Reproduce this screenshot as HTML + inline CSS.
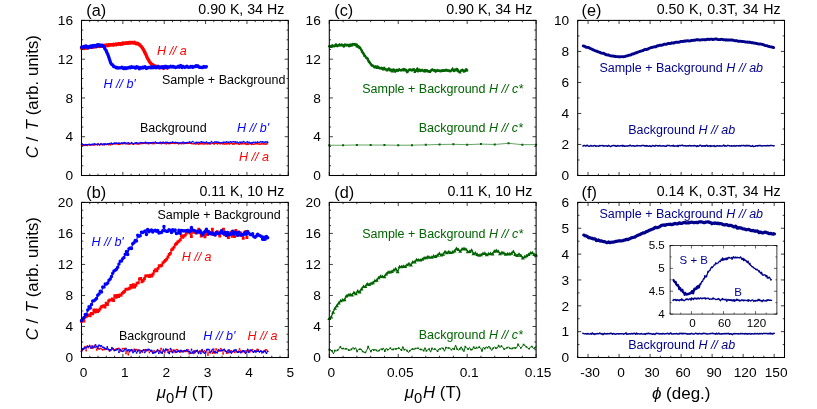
<!DOCTYPE html>
<html><head><meta charset="utf-8"><title>Figure</title>
<style>html,body{margin:0;padding:0;background:#fff;}svg{display:block;will-change:transform;}text{font-family:"Liberation Sans",sans-serif;}</style>
</head><body>
<svg width="817" height="409" viewBox="0 0 817 409" font-family="'Liberation Sans', sans-serif">
<rect width="817" height="409" fill="#fff"/>
<polyline points="81.5,144.68 82.35,145.38 83.2,145.18 84.05,145.02 84.9,145.4 85.75,145.1 86.6,145.07 87.45,145.63 88.3,144.65 89.15,144.76 90,145.14 90.85,144.95 91.7,144.69 92.55,144.91 93.4,144.87 94.25,145.25 95.1,144.53 95.95,144.64 96.8,144.55 97.65,145.13 98.5,144.01 99.35,144.49 100.2,144.64 101.05,143.78 101.9,144.45 102.75,144.89 103.6,144.5 104.45,145.11 105.3,143.94 106.15,144.41 107,144.49 107.85,143.84 108.7,144.73 109.55,143.96 110.4,144.82 111.25,144.31 112.1,144.47 112.94,143.54 113.79,143.41 114.64,144.09 115.49,143.67 116.34,144 117.19,143.72 118.04,144.15 118.89,144.45 119.74,144.47 120.59,143.71 121.44,143.06 122.29,143.72 123.14,143.98 123.99,143.14 124.84,143.69 125.69,143.73 126.54,143.66 127.39,143.78 128.24,143.83 129.09,144.2 129.94,143.53 130.79,143.72 131.64,143.27 132.49,143.79 133.34,144.3 134.19,143.68 135.04,143.05 135.89,143.75 136.74,143.91 137.59,144 138.44,143.94 139.29,143.68 140.14,143.97 140.99,143.05 141.84,143.65 142.69,143.5 143.54,143.04 144.39,143.01 145.24,143.59 146.09,143.39 146.94,143.25 147.79,143.56 148.64,144.09 149.49,143.25 150.34,143.17 151.19,143.32 152.04,143.77 152.89,143.52 153.74,143.65 154.59,143.54 155.44,143 156.29,142.91 157.14,143.2 157.99,143.24 158.84,143.19 159.69,143.42 160.54,143.44 161.39,143.64 162.24,143.43 163.09,142.65 163.94,143.12 164.79,143.53 165.64,143.57 166.49,143.71 167.34,143.29 168.19,143.28 169.04,143.91 169.89,143.25 170.74,143.61 171.59,142.93 172.44,143.37 173.29,142.84 174.14,143.58 174.98,143.52 175.83,143.32 176.68,143.07 177.53,143.24 178.38,143.85 179.23,143.37 180.08,143.43 180.93,143.58 181.78,143.66 182.63,142.85 183.48,143.58 184.33,143.73 185.18,143.23 186.03,143.41 186.88,143.48 187.73,143.19 188.58,143.3 189.43,143.34 190.28,143.14 191.13,143.37 191.98,143.68 192.83,143.6 193.68,143.66 194.53,143.41 195.38,143.85 196.23,144.11 197.08,143.47 197.93,143.95 198.78,144.17 199.63,143.38 200.48,143.75 201.33,143.35 202.18,143.7 203.03,143.91 203.88,143.95 204.73,143.71 205.58,143.63 206.43,143.82 207.28,143.64 208.13,144.07 208.98,143.55 209.83,144.17 210.68,143.63 211.53,143.33 212.38,143.2 213.23,143 214.08,144.11 214.93,143.33 215.78,143.19 216.63,143.27 217.48,143.92 218.33,143.47 219.18,142.98 220.03,144.13 220.88,143.46 221.73,143.25 222.58,143.87 223.43,143.44 224.28,144.01 225.13,143.93 225.98,143.93 226.83,143.6 227.68,143.7 228.53,143.35 229.38,144 230.23,143.73 231.08,143.36 231.93,143.5 232.78,144.15 233.63,143.48 234.48,143.87 235.33,143.58 236.18,143.62 237.02,143.31 237.87,143.69 238.72,144.36 239.57,144.21 240.42,143.5 241.27,143.84 242.12,143.37 242.97,143.67 243.82,144.02 244.67,143.41 245.52,144.05 246.37,144.48 247.22,143.09 248.07,144.44 248.92,143.58 249.77,143.48 250.62,143.76 251.47,144.38 252.32,143.47 253.17,144.31 254.02,144.28 254.87,143.95 255.72,143.57 256.57,143.74 257.42,143.57 258.27,144 259.12,143.91 259.97,144.25 260.82,143.97 261.67,143.67 262.52,143.98 263.37,143.72 264.22,144.08 265.07,144.09 265.92,143.88 266.77,143.96 267.62,143.7" fill="none" stroke="#ff0000" stroke-width="1.2" stroke-linejoin="round" stroke-linecap="round" />
<path d="M81.5 144.68h.01M83.2 145.18h.01M84.9 145.4h.01M86.6 145.07h.01M88.3 144.65h.01M90 145.14h.01M91.7 144.69h.01M93.4 144.87h.01M95.1 144.53h.01M96.8 144.55h.01M98.5 144.01h.01M100.2 144.64h.01M101.9 144.45h.01M103.6 144.5h.01M105.3 143.94h.01M107 144.49h.01M108.7 144.73h.01M110.4 144.82h.01M112.1 144.47h.01M113.79 143.41h.01M115.49 143.67h.01M117.19 143.72h.01M118.89 144.45h.01M120.59 143.71h.01M122.29 143.72h.01M123.99 143.14h.01M125.69 143.73h.01M127.39 143.78h.01M129.09 144.2h.01M130.79 143.72h.01M132.49 143.79h.01M134.19 143.68h.01M135.89 143.75h.01M137.59 144h.01M139.29 143.68h.01M140.99 143.05h.01M142.69 143.5h.01M144.39 143.01h.01M146.09 143.39h.01M147.79 143.56h.01M149.49 143.25h.01M151.19 143.32h.01M152.89 143.52h.01M154.59 143.54h.01M156.29 142.91h.01M157.99 143.24h.01M159.69 143.42h.01M161.39 143.64h.01M163.09 142.65h.01M164.79 143.53h.01M166.49 143.71h.01M168.19 143.28h.01M169.89 143.25h.01M171.59 142.93h.01M173.29 142.84h.01M174.98 143.52h.01M176.68 143.07h.01M178.38 143.85h.01M180.08 143.43h.01M181.78 143.66h.01M183.48 143.58h.01M185.18 143.23h.01M186.88 143.48h.01M188.58 143.3h.01M190.28 143.14h.01M191.98 143.68h.01M193.68 143.66h.01M195.38 143.85h.01M197.08 143.47h.01M198.78 144.17h.01M200.48 143.75h.01M202.18 143.7h.01M203.88 143.95h.01M205.58 143.63h.01M207.28 143.64h.01M208.98 143.55h.01M210.68 143.63h.01M212.38 143.2h.01M214.08 144.11h.01M215.78 143.19h.01M217.48 143.92h.01M219.18 142.98h.01M220.88 143.46h.01M222.58 143.87h.01M224.28 144.01h.01M225.98 143.93h.01M227.68 143.7h.01M229.38 144h.01M231.08 143.36h.01M232.78 144.15h.01M234.48 143.87h.01M236.18 143.62h.01M237.87 143.69h.01M239.57 144.21h.01M241.27 143.84h.01M242.97 143.67h.01M244.67 143.41h.01M246.37 144.48h.01M248.07 144.44h.01M249.77 143.48h.01M251.47 144.38h.01M253.17 144.31h.01M254.87 143.95h.01M256.57 143.74h.01M258.27 144h.01M259.97 144.25h.01M261.67 143.67h.01M263.37 143.72h.01M265.07 144.09h.01M266.77 143.96h.01" fill="none" stroke="#ff0000" stroke-width="1.6" stroke-linecap="round"/>
<polyline points="81.5,144.8 82.35,144.16 83.2,144.88 84.05,144.85 84.9,145.13 85.75,144.68 86.6,144.39 87.45,144.91 88.3,144.6 89.15,144.27 90,144.56 90.85,144.67 91.7,144.05 92.55,144.35 93.4,144.2 94.25,143.86 95.1,143.83 95.95,144.37 96.8,144.4 97.65,144.05 98.5,144.17 99.35,144.82 100.2,143.55 101.05,144 101.9,143.68 102.75,144.39 103.6,143.4 104.45,144.09 105.3,143.86 106.15,144.33 107,143.82 107.85,143.81 108.7,143.75 109.55,143.48 110.4,143.59 111.25,143.2 112.1,143.73 112.94,143.91 113.79,143.5 114.64,143.22 115.49,142.95 116.34,143.09 117.19,144.06 118.04,143.2 118.89,142.76 119.74,143.28 120.59,143.48 121.44,143.13 122.29,143.43 123.14,142.97 123.99,143.2 124.84,142.63 125.69,142.96 126.54,143.42 127.39,142.88 128.24,142.74 129.09,143.3 129.94,143.23 130.79,143.94 131.64,142.68 132.49,143.24 133.34,143.81 134.19,143.66 135.04,143.04 135.89,142.65 136.74,142.96 137.59,142.72 138.44,143.32 139.29,143.4 140.14,142.52 140.99,142.65 141.84,142.84 142.69,142.32 143.54,143.17 144.39,142.95 145.24,142.38 146.09,142.05 146.94,142.74 147.79,142.08 148.64,142.95 149.49,142.58 150.34,142.76 151.19,143.3 152.04,142.57 152.89,142.3 153.74,142.71 154.59,142.67 155.44,142.09 156.29,143.1 157.14,143.19 157.99,142.85 158.84,143.05 159.69,142.06 160.54,142.45 161.39,142.9 162.24,142.8 163.09,141.44 163.94,142.78 164.79,142.83 165.64,142.41 166.49,142.28 167.34,142.43 168.19,142.86 169.04,142.95 169.89,142.27 170.74,142.51 171.59,143.12 172.44,142.03 173.29,142.17 174.14,142.56 174.98,142.56 175.83,142.37 176.68,142.72 177.53,142.97 178.38,142.32 179.23,142.99 180.08,142.28 180.93,142.98 181.78,142.46 182.63,142.47 183.48,141.72 184.33,142.82 185.18,142.95 186.03,142.65 186.88,142.83 187.73,142.61 188.58,142.22 189.43,142.08 190.28,141.73 191.13,142.65 191.98,141.34 192.83,141.59 193.68,142.43 194.53,143.24 195.38,142.38 196.23,142.31 197.08,143.23 197.93,142.31 198.78,142.41 199.63,142.63 200.48,142.08 201.33,141.93 202.18,142.5 203.03,142.22 203.88,142.56 204.73,142.61 205.58,142.27 206.43,142.09 207.28,142.51 208.13,143.15 208.98,142.06 209.83,142.9 210.68,142.23 211.53,141.58 212.38,142.28 213.23,142.73 214.08,142.83 214.93,141.81 215.78,142.26 216.63,142.05 217.48,141.89 218.33,142.27 219.18,142.36 220.03,142.61 220.88,143.43 221.73,142.82 222.58,142.26 223.43,142.3 224.28,142.07 225.13,142.27 225.98,142.16 226.83,141.91 227.68,142.56 228.53,142.32 229.38,142.83 230.23,141.83 231.08,142.19 231.93,142.01 232.78,141.6 233.63,141.77 234.48,142.21 235.33,141.88 236.18,142.74 237.02,142.01 237.87,142.12 238.72,142.8 239.57,141.65 240.42,142.44 241.27,141.9 242.12,142.32 242.97,141.77 243.82,141.65 244.67,142.47 245.52,142.74 246.37,142.2 247.22,141.81 248.07,142.28 248.92,142.37 249.77,141.94 250.62,143.2 251.47,142.38 252.32,142.66 253.17,142 254.02,142.4 254.87,142.54 255.72,142.25 256.57,142.67 257.42,142.11 258.27,142.36 259.12,142.24 259.97,142.37 260.82,141.73 261.67,142.13 262.52,141.88 263.37,141.89 264.22,142.38 265.07,141.85 265.92,141.93 266.77,141.94 267.62,142.21" fill="none" stroke="#0000ff" stroke-width="0.8" stroke-linejoin="round" stroke-linecap="round" />
<path d="M82.35 144.16h.01M84.05 144.85h.01M85.75 144.68h.01M87.45 144.91h.01M89.15 144.27h.01M90.85 144.67h.01M92.55 144.35h.01M94.25 143.86h.01M95.95 144.37h.01M97.65 144.05h.01M99.35 144.82h.01M101.05 144h.01M102.75 144.39h.01M104.45 144.09h.01M106.15 144.33h.01M107.85 143.81h.01M109.55 143.48h.01M111.25 143.2h.01M112.94 143.91h.01M114.64 143.22h.01M116.34 143.09h.01M118.04 143.2h.01M119.74 143.28h.01M121.44 143.13h.01M123.14 142.97h.01M124.84 142.63h.01M126.54 143.42h.01M128.24 142.74h.01M129.94 143.23h.01M131.64 142.68h.01M133.34 143.81h.01M135.04 143.04h.01M136.74 142.96h.01M138.44 143.32h.01M140.14 142.52h.01M141.84 142.84h.01M143.54 143.17h.01M145.24 142.38h.01M146.94 142.74h.01M148.64 142.95h.01M150.34 142.76h.01M152.04 142.57h.01M153.74 142.71h.01M155.44 142.09h.01M157.14 143.19h.01M158.84 143.05h.01M160.54 142.45h.01M162.24 142.8h.01M163.94 142.78h.01M165.64 142.41h.01M167.34 142.43h.01M169.04 142.95h.01M170.74 142.51h.01M172.44 142.03h.01M174.14 142.56h.01M175.83 142.37h.01M177.53 142.97h.01M179.23 142.99h.01M180.93 142.98h.01M182.63 142.47h.01M184.33 142.82h.01M186.03 142.65h.01M187.73 142.61h.01M189.43 142.08h.01M191.13 142.65h.01M192.83 141.59h.01M194.53 143.24h.01M196.23 142.31h.01M197.93 142.31h.01M199.63 142.63h.01M201.33 141.93h.01M203.03 142.22h.01M204.73 142.61h.01M206.43 142.09h.01M208.13 143.15h.01M209.83 142.9h.01M211.53 141.58h.01M213.23 142.73h.01M214.93 141.81h.01M216.63 142.05h.01M218.33 142.27h.01M220.03 142.61h.01M221.73 142.82h.01M223.43 142.3h.01M225.13 142.27h.01M226.83 141.91h.01M228.53 142.32h.01M230.23 141.83h.01M231.93 142.01h.01M233.63 141.77h.01M235.33 141.88h.01M237.02 142.01h.01M238.72 142.8h.01M240.42 142.44h.01M242.12 142.32h.01M243.82 141.65h.01M245.52 142.74h.01M247.22 141.81h.01M248.92 142.37h.01M250.62 143.2h.01M252.32 142.66h.01M254.02 142.4h.01M255.72 142.25h.01M257.42 142.11h.01M259.12 142.24h.01M260.82 141.73h.01M262.52 141.88h.01M264.22 142.38h.01M265.92 141.93h.01M267.62 142.21h.01" fill="none" stroke="#0000ff" stroke-width="1.7" stroke-linecap="round"/>
<polyline points="81.5,48.15 81.84,47.76 82.17,47.32 82.51,48.16 82.84,47.73 83.18,47.95 83.51,47.58 83.85,47.65 84.18,47.43 84.52,48.51 84.85,47.84 85.19,47.92 85.52,47.62 85.86,47.77 86.19,47.71 86.53,47.29 86.87,46.9 87.2,48.23 87.54,47.47 87.87,47.25 88.21,47.3 88.54,47.37 88.88,47.63 89.21,47.47 89.55,46.95 89.88,46.81 90.22,47.06 90.55,47.29 90.89,46.99 91.23,47.05 91.56,46.78 91.9,46.87 92.23,47.05 92.57,46.78 92.9,47.14 93.24,46.52 93.57,46.38 93.91,47.03 94.24,46.53 94.58,46.91 94.91,46.27 95.25,46.28 95.58,46.58 95.92,46.18 96.26,46.56 96.59,46.59 96.93,46.53 97.26,46.37 97.6,46.39 97.93,46.21 98.27,46.4 98.6,45.96 98.94,45.85 99.27,46.26 99.61,46.49 99.94,45.83 100.28,45.67 100.62,46.01 100.95,46.3 101.29,45.82 101.62,45.41 101.96,46.37 102.29,45.65 102.63,45.84 102.96,45.96 103.3,45.53 103.63,46.02 103.97,45.52 104.3,45.19 104.64,45.48 104.97,45.75 105.31,45.98 105.65,45.8 105.98,45.92 106.32,44.89 106.65,45.39 106.99,45.58 107.32,45.62 107.66,45.52 107.99,45.27 108.33,45.51 108.66,44.61 109,45.28 109.33,45.25 109.67,44.9 110,44.53 110.34,44.53 110.68,45.02 111.01,44.77 111.35,44.77 111.68,44.62 112.02,44.66 112.35,44.98 112.69,45.03 113.02,44.58 113.36,44.94 113.69,44.16 114.03,44.51 114.36,44.78 114.7,44.54 115.04,44.56 115.37,44.41 115.71,44.06 116.04,44.72 116.38,44.81 116.71,44.13 117.05,44.25 117.38,44.11 117.72,43.99 118.05,44.14 118.39,43.82 118.72,44.28 119.06,43.96 119.39,44.19 119.73,44.24 120.07,43.69 120.4,43.67 120.74,44.37 121.07,44.09 121.41,43.64 121.74,43.38 122.08,43.85 122.41,43.68 122.75,44 123.08,42.82 123.42,43.38 123.75,43.22 124.09,43.26 124.42,43.14 124.76,43.2 125.1,43.44 125.43,43.09 125.77,43.25 126.1,42.87 126.44,43.42 126.77,43.34 127.11,42.95 127.44,42.74 127.78,43.04 128.11,43.26 128.45,43.06 128.78,43.14 129.12,42.41 129.46,42.68 129.79,42.54 130.13,42.8 130.46,43.02 130.8,42.5 131.13,42.34 131.47,42.63 131.8,42.79 132.14,42.46 132.47,42.87 132.81,42.53 133.14,42.95 133.48,43.06 133.81,42.65 134.15,42.76 134.49,42.36 134.82,43.05 135.16,43.02 135.49,43.43 135.83,43.71 136.16,43.77 136.5,43.22 136.83,43.8 137.17,43.25 137.5,43.29 137.84,43.93 138.17,43.53 138.51,44.12 138.85,44.06 139.18,44.67 139.52,44.56 139.85,45.38 140.19,45.21 140.52,45.84 140.86,46.08 141.19,46.23 141.53,46.77 141.86,47.27 142.2,47.5 142.53,47.98 142.87,49.14 143.2,49.14 143.54,49.7 143.88,50.73 144.21,51.04 144.55,52.21 144.88,52.09 145.22,53.28 145.55,53.95 145.89,54.3 146.22,55.41 146.56,55.91 146.89,57.1 147.23,57.66 147.56,58.59 147.9,58.91 148.23,59.19 148.57,60.03 148.91,60.43 149.24,61.54 149.58,62.02 149.91,62.39 150.25,62.54 150.58,63.03 150.92,63.53 151.25,63.71 151.59,64.27 151.92,64.55 152.26,64.44 152.59,65.25 152.93,65.26 153.27,65.06 153.6,65.69 153.94,65.69 154.27,66.23 154.61,65.62 154.94,66.97 155.28,66.76 155.61,66.84 155.95,66.16 156.28,66.61 156.62,66.86 156.95,67.23 157.29,66.81 157.62,66.94 157.96,67.22 158.3,67.49 158.63,67.42 158.97,67.07 159.3,67.07 159.64,67.17 159.97,67.26 160.31,67.75 160.64,67.24 160.98,67.57 161.31,67.28 161.65,67.17 161.98,67.51 162.32,67.62 162.66,67.05 162.99,67.24 163.33,67.54 163.66,68.23 164,67.38 164.33,67.19 164.67,67.05 165,67.58 165.34,67.57 165.67,67.52 166.01,67.15 166.34,67.73 166.68,67.43 167.01,67.67 167.35,67.32 167.69,67.85 168.02,67.29 168.36,67.55" fill="none" stroke="#ff0000" stroke-width="3.3" stroke-linejoin="round" stroke-linecap="round" />
<polyline points="81.5,47.14 81.85,47.5 82.2,47.32 82.54,47.43 82.89,46.99 83.24,46.82 83.59,46.88 83.94,46.38 84.28,46.89 84.63,47.13 84.98,47.1 85.33,46.28 85.68,45.81 86.02,45.85 86.37,46.54 86.72,47.04 87.07,47.3 87.41,46.7 87.76,46.8 88.11,46.82 88.46,47.73 88.81,47.13 89.15,46.69 89.5,46.45 89.85,46.55 90.2,46.37 90.55,46 90.89,46.18 91.24,46.87 91.59,47.36 91.94,46.75 92.29,46.54 92.63,45.63 92.98,45.56 93.33,45.49 93.68,45.88 94.03,45.86 94.37,45.59 94.72,45.32 95.07,45.95 95.42,45.7 95.77,45.97 96.11,46.11 96.46,46.49 96.81,46.09 97.16,44.84 97.5,44.73 97.85,45.2 98.2,45.16 98.55,44.99 98.9,44.68 99.24,45.57 99.59,45.89 99.94,45.42 100.29,45.21 100.64,45.11 100.98,45.72 101.33,45.26 101.68,45.36 102.03,45.15 102.38,45.67 102.72,45.65 103.07,46.32 103.42,46.49 103.77,46.43 104.12,46.57 104.46,47.43 104.81,48.72 105.16,49.19 105.51,49.61 105.86,49.94 106.2,50.71 106.55,51.83 106.9,52.43 107.25,53.26 107.59,53.8 107.94,54.92 108.29,55.7 108.64,56.65 108.99,57.93 109.33,58.81 109.68,59.86 110.03,60.69 110.38,62.27 110.73,62.9 111.07,63.68 111.42,64.02 111.77,64.46 112.12,64.66 112.47,64.67 112.81,65.11 113.16,65.57 113.51,66.24 113.86,66.73 114.21,66.66 114.55,66.75 114.9,66.88 115.25,66.97 115.6,67.06 115.95,67.18 116.29,67.92 116.64,67.9 116.99,67.76 117.34,67.37 117.68,67.66 118.03,67.99 118.38,68.1 118.73,67.94 119.08,67.76 119.42,67.75 119.77,67.96 120.12,67.84 120.47,67.74 120.82,67.82 121.16,67.71 121.51,67.56 121.86,67.12 122.21,67.37 122.56,67.65 122.9,68.2 123.25,67.95 123.6,68.49 123.95,68.27 124.3,68.57 124.64,67.73 124.99,67.62 125.34,67.79 125.69,68.43 126.04,68.63 126.38,68.32 126.73,67.9 127.08,67.75 127.43,67.97 127.77,68.04 128.12,67.7 128.47,67.81 128.82,67.74 129.17,67.56 129.51,67.09 129.86,67.22 130.21,67.49 130.56,67.85 130.91,67.71 131.25,67.46 131.6,66.71 131.95,67.19 132.3,67.42 132.65,67.4 132.99,67.07 133.34,67.19 133.69,67.31 134.04,67.29 134.39,67.23 134.73,67.66 135.08,68.06 135.43,68.08 135.78,68.11 136.13,67.31 136.47,66.82 136.82,66.57 137.17,66.93 137.52,67.38 137.86,67.51 138.21,67.12 138.56,67.64 138.91,68.02 139.26,68.87 139.6,68.3 139.95,67.97 140.3,67.57 140.65,67.94 141,68.09 141.34,68.17 141.69,68.05 142.04,68.02 142.39,67.37 142.74,67.18 143.08,67.27 143.43,67.82 143.78,67.57 144.13,67.2 144.48,66.95 144.82,67.08 145.17,66.76 145.52,67.18 145.87,67.58 146.22,68.51 146.56,68.03 146.91,67.92 147.26,67.61 147.61,67.96 147.95,67.66 148.3,67.5 148.65,67.43 149,67.27 149.35,67.52 149.69,67.72 150.04,67.34 150.39,67.15 150.74,66.94 151.09,67.86 151.43,67.79 151.78,67.42 152.13,67 152.48,66.8 152.83,67.1 153.17,67.72 153.52,67.79 153.87,67.28 154.22,66.56 154.57,66.68 154.91,66.87 155.26,67.28 155.61,67.24 155.96,67.81 156.31,67.78 156.65,67.72 157,67.42 157.35,67.11 157.7,66.62 158.04,66.2 158.39,66.49 158.74,67.22 159.09,67.77 159.44,67.95 159.78,67.73 160.13,67.42 160.48,67.09 160.83,67.05 161.18,67.11 161.52,67.2 161.87,67.45 162.22,67.01 162.57,66.68 162.92,66.72 163.26,67.45 163.61,67.9 163.96,67.63 164.31,67.02 164.66,66.57 165,66.27 165.35,66.32 165.7,66.29 166.05,66.37 166.4,66.55 166.74,66.89 167.09,67.57 167.44,67.73 167.79,67.19 168.13,66.85 168.48,66.98 168.83,67.2 169.18,67.02 169.53,66.97 169.87,66.82 170.22,66.66 170.57,66.31 170.92,66.9 171.27,66.93 171.61,67.03 171.96,66.65 172.31,66.46 172.66,66.25 173.01,66.41 173.35,66.54 173.7,67.17 174.05,67.03 174.4,67.03 174.75,66.81 175.09,67.2 175.44,67.4 175.79,67.63 176.14,67.31 176.49,67.21 176.83,67.13 177.18,67.21 177.53,66.99 177.88,66.42 178.22,66.14 178.57,66.48 178.92,66.87 179.27,67.26 179.62,67.04 179.96,66.28 180.31,65.78 180.66,65.49 181.01,65.77 181.36,66.61 181.7,67.1 182.05,67.6 182.4,66.79 182.75,66.26 183.1,66.32 183.44,66.65 183.79,66.96 184.14,66.91 184.49,67.09 184.84,67.43 185.18,67.04 185.53,67.12 185.88,66.61 186.23,66.82 186.58,66.35 186.92,66.23 187.27,66.44 187.62,66.88 187.97,67.18 188.31,67.28 188.66,67.25 189.01,67.4 189.36,67.06 189.71,67.2 190.05,67.27 190.4,67.14 190.75,66.42 191.1,66.85 191.45,66.65 191.79,66.77 192.14,66.52 192.49,67.29 192.84,67.42 193.19,67.22 193.53,66.77 193.88,66.64 194.23,66.62 194.58,66.61 194.93,66.72 195.27,66.36 195.62,65.91 195.97,65.56 196.32,65.74 196.67,66.29 197.01,66.1 197.36,65.98 197.71,65.79 198.06,66.75 198.4,66.71 198.75,67.04 199.1,66.86 199.45,67.44 199.8,67.36 200.14,67.21 200.49,67.26 200.84,67.36 201.19,67.39 201.54,67.32 201.88,67.41 202.23,67.62 202.58,67.65 202.93,67.13 203.28,67.17 203.62,66.56 203.97,66.47 204.32,66.52 204.67,66.72 205.02,67.1 205.36,67.08 205.71,67.18 206.06,67.11 206.41,66.59" fill="none" stroke="#0000ff" stroke-width="3.2" stroke-linejoin="round" stroke-linecap="round" />
<rect x="81.5" y="20.4" width="206.8" height="155.1" fill="none" stroke="#000" stroke-width="1.05"/>
<path d="M81.5 175.5v-3.6M81.5 20.4v3.6M89.77 175.5v-1.8M89.77 20.4v1.8M98.04 175.5v-1.8M98.04 20.4v1.8M106.32 175.5v-1.8M106.32 20.4v1.8M114.59 175.5v-1.8M114.59 20.4v1.8M122.86 175.5v-3.6M122.86 20.4v3.6M131.13 175.5v-1.8M131.13 20.4v1.8M139.4 175.5v-1.8M139.4 20.4v1.8M147.68 175.5v-1.8M147.68 20.4v1.8M155.95 175.5v-1.8M155.95 20.4v1.8M164.22 175.5v-3.6M164.22 20.4v3.6M172.49 175.5v-1.8M172.49 20.4v1.8M180.76 175.5v-1.8M180.76 20.4v1.8M189.04 175.5v-1.8M189.04 20.4v1.8M197.31 175.5v-1.8M197.31 20.4v1.8M205.58 175.5v-3.6M205.58 20.4v3.6M213.85 175.5v-1.8M213.85 20.4v1.8M222.12 175.5v-1.8M222.12 20.4v1.8M230.4 175.5v-1.8M230.4 20.4v1.8M238.67 175.5v-1.8M238.67 20.4v1.8M246.94 175.5v-3.6M246.94 20.4v3.6M255.21 175.5v-1.8M255.21 20.4v1.8M263.48 175.5v-1.8M263.48 20.4v1.8M271.76 175.5v-1.8M271.76 20.4v1.8M280.03 175.5v-1.8M280.03 20.4v1.8M288.3 175.5v-3.6M288.3 20.4v3.6M81.5 175.5h3.6M288.3 175.5h-3.6M81.5 165.81h1.8M288.3 165.81h-1.8M81.5 156.11h1.8M288.3 156.11h-1.8M81.5 146.42h1.8M288.3 146.42h-1.8M81.5 136.72h3.6M288.3 136.72h-3.6M81.5 127.03h1.8M288.3 127.03h-1.8M81.5 117.34h1.8M288.3 117.34h-1.8M81.5 107.64h1.8M288.3 107.64h-1.8M81.5 97.95h3.6M288.3 97.95h-3.6M81.5 88.26h1.8M288.3 88.26h-1.8M81.5 78.56h1.8M288.3 78.56h-1.8M81.5 68.87h1.8M288.3 68.87h-1.8M81.5 59.18h3.6M288.3 59.18h-3.6M81.5 49.48h1.8M288.3 49.48h-1.8M81.5 39.79h1.8M288.3 39.79h-1.8M81.5 30.09h1.8M288.3 30.09h-1.8M81.5 20.4h3.6M288.3 20.4h-3.6" stroke="#000" stroke-width="0.75" fill="none"/>
<text x="73" y="180.2" font-size="13.7" text-anchor="end">0</text>
<text x="73" y="141.43" font-size="13.7" text-anchor="end">4</text>
<text x="73" y="102.65" font-size="13.7" text-anchor="end">8</text>
<text x="73" y="63.88" font-size="13.7" text-anchor="end">12</text>
<text x="73" y="25.1" font-size="13.7" text-anchor="end">16</text>
<text x="156.9" y="54.8" font-size="12.5" fill="#ff0000" text-anchor="start" ><tspan font-style="italic">H // a</tspan></text>
<text x="103.5" y="87.6" font-size="12.5" fill="#0000ff" text-anchor="start" ><tspan font-style="italic">H // b'</tspan></text>
<text x="162" y="83.8" font-size="12.5" fill="#000" text-anchor="start" >Sample + Background</text>
<text x="139.9" y="131.8" font-size="12.5" fill="#000" text-anchor="start" >Background</text>
<text x="236.9" y="131.8" font-size="12.5" fill="#0000ff" text-anchor="start" ><tspan font-style="italic">H // b'</tspan></text>
<text x="239" y="160.6" font-size="12.5" fill="#ff0000" text-anchor="start" ><tspan font-style="italic">H // a</tspan></text>
<text x="86.3" y="15.7" font-size="16.3" fill="#000" text-anchor="start" >(a)</text>
<text x="284.3" y="14" font-size="14.2" fill="#000" text-anchor="end" >0.90 K, 34 Hz</text>
<polyline points="81.5,351.1 82.67,349.75 83.84,348.05 85.01,346.71 86.18,350.75 87.35,345.87 88.52,347.57 89.69,345.39 90.86,347.74 92.04,348.19 93.21,347.06 94.38,345.63 95.55,347.02 96.72,349.96 97.89,346.18 99.06,349.05 100.23,348.38 101.4,348.77 102.57,349.83 103.74,349.37 104.91,349.33 106.08,349.17 107.25,348.8 108.42,349.45 109.59,351.17 110.76,349.82 111.93,348.62 113.11,348.82 114.28,349.95 115.45,349.41 116.62,349.12 117.79,348.59 118.96,348.23 120.13,350.78 121.3,350.76 122.47,348.64 123.64,348.57 124.81,348.63 125.98,353.49 127.15,350.89 128.32,354.68 129.49,349.77 130.66,350.63 131.83,350.66 133,350.92 134.18,349.16 135.35,351.16 136.52,349.53 137.69,350.15 138.86,350.41 140.03,350.29 141.2,350.74 142.37,352.25 143.54,350.02 144.71,350.04 145.88,351.11 147.05,350.04 148.22,349.84 149.39,352.56 150.56,351.16 151.73,351.54 152.9,352.13 154.08,350.62 155.25,352.08 156.42,351.58 157.59,350.75 158.76,350.63 159.93,350.67 161.1,348.31 162.27,351.72 163.44,350.79 164.61,352.61 165.78,350.53 166.95,349.7 168.12,349.63 169.29,351.94 170.46,351.51 171.63,349.6 172.8,351.29 173.97,349.99 175.15,352.4 176.32,349.48 177.49,349.93 178.66,350.64 179.83,352.21 181,351.42 182.17,351.04 183.34,350.91 184.51,351.37 185.68,351.52 186.85,351.02 188.02,349.53 189.19,353.76 190.36,352.97 191.53,353.19 192.7,352.13 193.87,353.44 195.04,350.6 196.22,351.17 197.39,351.6 198.56,352.14 199.73,351.1 200.9,351.07 202.07,350.88 203.24,352.2 204.41,350.49 205.58,353.12 206.75,349.75 207.92,355.11 209.09,352.03 210.26,352.78 211.43,350.31 212.6,353.13 213.77,349.02 214.94,353.2 216.12,348.76 217.29,350.72 218.46,351.23 219.63,350.72 220.8,348.53 221.97,350.14 223.14,354.01 224.31,349.75 225.48,350.94 226.65,353.23 227.82,350.27 228.99,352.71 230.16,350.97 231.33,350.9 232.5,351.99 233.67,350.37 234.84,352.43 236.01,350.92 237.19,351.83 238.36,351.36 239.53,348.74 240.7,350.98 241.87,352.46 243.04,351.24 244.21,352.04 245.38,351.05 246.55,350.87 247.72,350.95 248.89,350.95 250.06,351.72 251.23,350.47 252.4,349.71 253.57,351.78 254.74,351.07 255.91,350.92 257.08,349.43 258.26,349.64 259.43,351.87 260.6,350.87 261.77,352.8 262.94,352.14 264.11,350.91 265.28,350.14 266.45,349.73 267.62,351.29" fill="none" stroke="#ff0000" stroke-width="0.7" stroke-linejoin="round" stroke-linecap="round" />
<path d="M81.5 351.1h.01M82.67 349.75h.01M83.84 348.05h.01M85.01 346.71h.01M86.18 350.75h.01M87.35 345.87h.01M88.52 347.57h.01M89.69 345.39h.01M90.86 347.74h.01M92.04 348.19h.01M93.21 347.06h.01M94.38 345.63h.01M95.55 347.02h.01M96.72 349.96h.01M97.89 346.18h.01M99.06 349.05h.01M100.23 348.38h.01M101.4 348.77h.01M102.57 349.83h.01M103.74 349.37h.01M104.91 349.33h.01M106.08 349.17h.01M107.25 348.8h.01M108.42 349.45h.01M109.59 351.17h.01M110.76 349.82h.01M111.93 348.62h.01M113.11 348.82h.01M114.28 349.95h.01M115.45 349.41h.01M116.62 349.12h.01M117.79 348.59h.01M118.96 348.23h.01M120.13 350.78h.01M121.3 350.76h.01M122.47 348.64h.01M123.64 348.57h.01M124.81 348.63h.01M125.98 353.49h.01M127.15 350.89h.01M128.32 354.68h.01M129.49 349.77h.01M130.66 350.63h.01M131.83 350.66h.01M133 350.92h.01M134.18 349.16h.01M135.35 351.16h.01M136.52 349.53h.01M137.69 350.15h.01M138.86 350.41h.01M140.03 350.29h.01M141.2 350.74h.01M142.37 352.25h.01M143.54 350.02h.01M144.71 350.04h.01M145.88 351.11h.01M147.05 350.04h.01M148.22 349.84h.01M149.39 352.56h.01M150.56 351.16h.01M151.73 351.54h.01M152.9 352.13h.01M154.08 350.62h.01M155.25 352.08h.01M156.42 351.58h.01M157.59 350.75h.01M158.76 350.63h.01M159.93 350.67h.01M161.1 348.31h.01M162.27 351.72h.01M163.44 350.79h.01M164.61 352.61h.01M165.78 350.53h.01M166.95 349.7h.01M168.12 349.63h.01M169.29 351.94h.01M170.46 351.51h.01M171.63 349.6h.01M172.8 351.29h.01M173.97 349.99h.01M175.15 352.4h.01M176.32 349.48h.01M177.49 349.93h.01M178.66 350.64h.01M179.83 352.21h.01M181 351.42h.01M182.17 351.04h.01M183.34 350.91h.01M184.51 351.37h.01M185.68 351.52h.01M186.85 351.02h.01M188.02 349.53h.01M189.19 353.76h.01M190.36 352.97h.01M191.53 353.19h.01M192.7 352.13h.01M193.87 353.44h.01M195.04 350.6h.01M196.22 351.17h.01M197.39 351.6h.01M198.56 352.14h.01M199.73 351.1h.01M200.9 351.07h.01M202.07 350.88h.01M203.24 352.2h.01M204.41 350.49h.01M205.58 353.12h.01M206.75 349.75h.01M207.92 355.11h.01M209.09 352.03h.01M210.26 352.78h.01M211.43 350.31h.01M212.6 353.13h.01M213.77 349.02h.01M214.94 353.2h.01M216.12 348.76h.01M217.29 350.72h.01M218.46 351.23h.01M219.63 350.72h.01M220.8 348.53h.01M221.97 350.14h.01M223.14 354.01h.01M224.31 349.75h.01M225.48 350.94h.01M226.65 353.23h.01M227.82 350.27h.01M228.99 352.71h.01M230.16 350.97h.01M231.33 350.9h.01M232.5 351.99h.01M233.67 350.37h.01M234.84 352.43h.01M236.01 350.92h.01M237.19 351.83h.01M238.36 351.36h.01M239.53 348.74h.01M240.7 350.98h.01M241.87 352.46h.01M243.04 351.24h.01M244.21 352.04h.01M245.38 351.05h.01M246.55 350.87h.01M247.72 350.95h.01M248.89 350.95h.01M250.06 351.72h.01M251.23 350.47h.01M252.4 349.71h.01M253.57 351.78h.01M254.74 351.07h.01M255.91 350.92h.01M257.08 349.43h.01M258.26 349.64h.01M259.43 351.87h.01M260.6 350.87h.01M261.77 352.8h.01M262.94 352.14h.01M264.11 350.91h.01M265.28 350.14h.01M266.45 349.73h.01M267.62 351.29h.01" fill="none" stroke="#ff0000" stroke-width="1.7" stroke-linecap="round"/>
<polyline points="81.5,351.42 82.67,348.76 83.84,348.92 85.01,347.64 86.18,347.53 87.35,346.57 88.52,346.55 89.69,346.24 90.86,347.79 92.04,345.93 93.21,347.74 94.38,346.98 95.55,344.75 96.72,346.59 97.89,348.48 99.06,345.21 100.23,345.93 101.4,345.92 102.57,347.31 103.74,347.39 104.91,348.4 106.08,349.28 107.25,346.83 108.42,349.5 109.59,349.93 110.76,350.15 111.93,347.51 113.11,348.91 114.28,350.57 115.45,350.23 116.62,349.6 117.79,349.19 118.96,352.33 120.13,349.26 121.3,350.7 122.47,351.32 123.64,350.99 124.81,349.56 125.98,348.4 127.15,350.43 128.32,349.95 129.49,351.68 130.66,350.09 131.83,349.71 133,352.6 134.18,351.41 135.35,349.81 136.52,353 137.69,351.3 138.86,350.1 140.03,352.96 141.2,351.37 142.37,350.83 143.54,349.8 144.71,352.51 145.88,349.56 147.05,350.57 148.22,349.47 149.39,349.53 150.56,350.56 151.73,350.39 152.9,353.16 154.08,352.69 155.25,352.28 156.42,351.47 157.59,349.89 158.76,353.27 159.93,351.47 161.1,352.72 162.27,353.03 163.44,349.27 164.61,350.99 165.78,349.09 166.95,349.66 168.12,352.28 169.29,353.45 170.46,348.59 171.63,351.67 172.8,352.6 173.97,350.33 175.15,351.02 176.32,352.03 177.49,351.63 178.66,351.01 179.83,351.13 181,350.29 182.17,351.67 183.34,351.66 184.51,350.5 185.68,350.86 186.85,349.9 188.02,351.57 189.19,351.39 190.36,352.7 191.53,349.41 192.7,353.01 193.87,351.03 195.04,352.39 196.22,350.87 197.39,350.36 198.56,353.32 199.73,351.55 200.9,353.47 202.07,349.55 203.24,351.85 204.41,353.25 205.58,352.17 206.75,349.67 207.92,349.45 209.09,349.72 210.26,352.26 211.43,351.48 212.6,349.26 213.77,352.19 214.94,351.69 216.12,352.46 217.29,352.72 218.46,349.77 219.63,350.48 220.8,350.7 221.97,350.53 223.14,349.98 224.31,349.36 225.48,351.24 226.65,351.64 227.82,352.48 228.99,349.86 230.16,351.84 231.33,353.04 232.5,351.52 233.67,351.14 234.84,350.13 236.01,349.91 237.19,352.05 238.36,352.13 239.53,351.53 240.7,352.62 241.87,351.24 243.04,350.53 244.21,351.04 245.38,353.08 246.55,352.55 247.72,349.46 248.89,352.31 250.06,350.12 251.23,350.25 252.4,351.42 253.57,352.25 254.74,350.74 255.91,352.09 257.08,351.2 258.26,350.84 259.43,351.85 260.6,351.24 261.77,351.33 262.94,352.47 264.11,351.17 265.28,351.71 266.45,353.18 267.62,351.33" fill="none" stroke="#0000ff" stroke-width="0.7" stroke-linejoin="round" stroke-linecap="round" />
<path d="M81.5 351.42h.01M82.67 348.76h.01M83.84 348.92h.01M85.01 347.64h.01M86.18 347.53h.01M87.35 346.57h.01M88.52 346.55h.01M89.69 346.24h.01M90.86 347.79h.01M92.04 345.93h.01M93.21 347.74h.01M94.38 346.98h.01M95.55 344.75h.01M96.72 346.59h.01M97.89 348.48h.01M99.06 345.21h.01M100.23 345.93h.01M101.4 345.92h.01M102.57 347.31h.01M103.74 347.39h.01M104.91 348.4h.01M106.08 349.28h.01M107.25 346.83h.01M108.42 349.5h.01M109.59 349.93h.01M110.76 350.15h.01M111.93 347.51h.01M113.11 348.91h.01M114.28 350.57h.01M115.45 350.23h.01M116.62 349.6h.01M117.79 349.19h.01M118.96 352.33h.01M120.13 349.26h.01M121.3 350.7h.01M122.47 351.32h.01M123.64 350.99h.01M124.81 349.56h.01M125.98 348.4h.01M127.15 350.43h.01M128.32 349.95h.01M129.49 351.68h.01M130.66 350.09h.01M131.83 349.71h.01M133 352.6h.01M134.18 351.41h.01M135.35 349.81h.01M136.52 353h.01M137.69 351.3h.01M138.86 350.1h.01M140.03 352.96h.01M141.2 351.37h.01M142.37 350.83h.01M143.54 349.8h.01M144.71 352.51h.01M145.88 349.56h.01M147.05 350.57h.01M148.22 349.47h.01M149.39 349.53h.01M150.56 350.56h.01M151.73 350.39h.01M152.9 353.16h.01M154.08 352.69h.01M155.25 352.28h.01M156.42 351.47h.01M157.59 349.89h.01M158.76 353.27h.01M159.93 351.47h.01M161.1 352.72h.01M162.27 353.03h.01M163.44 349.27h.01M164.61 350.99h.01M165.78 349.09h.01M166.95 349.66h.01M168.12 352.28h.01M169.29 353.45h.01M170.46 348.59h.01M171.63 351.67h.01M172.8 352.6h.01M173.97 350.33h.01M175.15 351.02h.01M176.32 352.03h.01M177.49 351.63h.01M178.66 351.01h.01M179.83 351.13h.01M181 350.29h.01M182.17 351.67h.01M183.34 351.66h.01M184.51 350.5h.01M185.68 350.86h.01M186.85 349.9h.01M188.02 351.57h.01M189.19 351.39h.01M190.36 352.7h.01M191.53 349.41h.01M192.7 353.01h.01M193.87 351.03h.01M195.04 352.39h.01M196.22 350.87h.01M197.39 350.36h.01M198.56 353.32h.01M199.73 351.55h.01M200.9 353.47h.01M202.07 349.55h.01M203.24 351.85h.01M204.41 353.25h.01M205.58 352.17h.01M206.75 349.67h.01M207.92 349.45h.01M209.09 349.72h.01M210.26 352.26h.01M211.43 351.48h.01M212.6 349.26h.01M213.77 352.19h.01M214.94 351.69h.01M216.12 352.46h.01M217.29 352.72h.01M218.46 349.77h.01M219.63 350.48h.01M220.8 350.7h.01M221.97 350.53h.01M223.14 349.98h.01M224.31 349.36h.01M225.48 351.24h.01M226.65 351.64h.01M227.82 352.48h.01M228.99 349.86h.01M230.16 351.84h.01M231.33 353.04h.01M232.5 351.52h.01M233.67 351.14h.01M234.84 350.13h.01M236.01 349.91h.01M237.19 352.05h.01M238.36 352.13h.01M239.53 351.53h.01M240.7 352.62h.01M241.87 351.24h.01M243.04 350.53h.01M244.21 351.04h.01M245.38 353.08h.01M246.55 352.55h.01M247.72 349.46h.01M248.89 352.31h.01M250.06 350.12h.01M251.23 350.25h.01M252.4 351.42h.01M253.57 352.25h.01M254.74 350.74h.01M255.91 352.09h.01M257.08 351.2h.01M258.26 350.84h.01M259.43 351.85h.01M260.6 351.24h.01M261.77 351.33h.01M262.94 352.47h.01M264.11 351.17h.01M265.28 351.71h.01M266.45 353.18h.01M267.62 351.33h.01" fill="none" stroke="#0000ff" stroke-width="1.7" stroke-linecap="round"/>
<polyline points="81.5,321.34 82.73,320.59 83.97,320.99 85.2,317.11 86.44,316.28 87.67,315.45 88.91,314.94 90.14,315.74 91.38,313.57 92.61,313.87 93.85,309.99 95.08,311.98 96.32,310.05 97.55,311.55 98.78,310.43 100.02,309.02 101.25,306.99 102.49,306.34 103.72,305.77 104.96,307.1 106.19,303.24 107.43,304.46 108.66,301.04 109.9,299.92 111.13,300.1 112.37,299.07 113.6,300.46 114.83,295.72 116.07,297.23 117.3,295.57 118.54,296.58 119.77,294.92 121.01,295.2 122.24,293.41 123.48,292.32 124.71,291.25 125.95,289.28 127.18,289.4 128.42,288.84 129.65,288.24 130.89,285.46 132.12,287.28 133.35,284.7 134.59,287.08 135.82,285.19 137.06,283.09 138.29,282.86 139.53,278.85 140.76,278.46 142,281.76 143.23,280.47 144.47,278.68 145.7,275.95 146.94,275.72 148.17,275.7 149.4,276.61 150.64,275.17 151.87,276.14 153.11,274.06 154.34,271.13 155.58,269.77 156.81,270.83 158.05,268.33 159.28,265.68 160.52,265.97 161.75,265.19 162.99,262.92 164.22,261.58 165.45,260.39 166.69,259.13 167.92,257.04 169.16,254.56 170.39,253.4 171.63,249.88 172.86,248.79 174.1,247.1 175.33,244.65 176.57,243.54 177.8,241.98 179.04,241.17 180.27,239.89 181.5,235.68 182.74,237.28 183.97,236.03 185.21,235.1 186.44,233.04 187.68,231.72 188.91,230.24 190.15,233.16 191.38,236.67 192.62,231.89 193.85,230.37 195.09,232.56 196.32,232.95 197.55,231.33 198.79,229.3 200.02,232.79 201.26,235.94 202.49,233.95 203.73,233.02 204.96,236.83 206.2,230.85 207.43,234.46 208.67,231.55 209.9,232.36 211.14,233.64 212.37,229.24 213.61,234.46 214.84,234.86 216.07,232.75 217.31,231.62 218.54,233.71 219.78,236.12 221.01,232.34 222.25,232.64 223.48,229.29 224.72,234.68 225.95,233.7 227.19,235.51 228.42,237.62 229.66,233.94 230.89,232.08 232.12,236.34 233.36,235.46 234.59,236.53 235.83,230.56 237.06,235.04 238.3,232.1 239.53,235.34 240.77,233.03 242,234.54 243.24,238.42 244.47,232.67 245.71,231.51 246.94,237.49" fill="none" stroke="#ff0000" stroke-width="1.2" stroke-linejoin="round" stroke-linecap="round" />
<path d="M80.05 321.34h2.9M81.28 320.59h2.9M82.52 320.99h2.9M83.75 317.11h2.9M84.99 316.28h2.9M86.22 315.45h2.9M87.46 314.94h2.9M88.69 315.74h2.9M89.93 313.57h2.9M91.16 313.87h2.9M92.4 309.99h2.9M93.63 311.98h2.9M94.87 310.05h2.9M96.1 311.55h2.9M97.33 310.43h2.9M98.57 309.02h2.9M99.8 306.99h2.9M101.04 306.34h2.9M102.27 305.77h2.9M103.51 307.1h2.9M104.74 303.24h2.9M105.98 304.46h2.9M107.21 301.04h2.9M108.45 299.92h2.9M109.68 300.1h2.9M110.92 299.07h2.9M112.15 300.46h2.9M113.38 295.72h2.9M114.62 297.23h2.9M115.85 295.57h2.9M117.09 296.58h2.9M118.32 294.92h2.9M119.56 295.2h2.9M120.79 293.41h2.9M122.03 292.32h2.9M123.26 291.25h2.9M124.5 289.28h2.9M125.73 289.4h2.9M126.97 288.84h2.9M128.2 288.24h2.9M129.44 285.46h2.9M130.67 287.28h2.9M131.9 284.7h2.9M133.14 287.08h2.9M134.37 285.19h2.9M135.61 283.09h2.9M136.84 282.86h2.9M138.08 278.85h2.9M139.31 278.46h2.9M140.55 281.76h2.9M141.78 280.47h2.9M143.02 278.68h2.9M144.25 275.95h2.9M145.49 275.72h2.9M146.72 275.7h2.9M147.95 276.61h2.9M149.19 275.17h2.9M150.42 276.14h2.9M151.66 274.06h2.9M152.89 271.13h2.9M154.13 269.77h2.9M155.36 270.83h2.9M156.6 268.33h2.9M157.83 265.68h2.9M159.07 265.97h2.9M160.3 265.19h2.9M161.54 262.92h2.9M162.77 261.58h2.9M164 260.39h2.9M165.24 259.13h2.9M166.47 257.04h2.9M167.71 254.56h2.9M168.94 253.4h2.9M170.18 249.88h2.9M171.41 248.79h2.9M172.65 247.1h2.9M173.88 244.65h2.9M175.12 243.54h2.9M176.35 241.98h2.9M177.59 241.17h2.9M178.82 239.89h2.9M180.05 235.68h2.9M181.29 237.28h2.9M182.52 236.03h2.9M183.76 235.1h2.9M184.99 233.04h2.9M186.23 231.72h2.9M187.46 230.24h2.9M188.7 233.16h2.9M189.93 236.67h2.9M191.17 231.89h2.9M192.4 230.37h2.9M193.64 232.56h2.9M194.87 232.95h2.9M196.1 231.33h2.9M197.34 229.3h2.9M198.57 232.79h2.9M199.81 235.94h2.9M201.04 233.95h2.9M202.28 233.02h2.9M203.51 236.83h2.9M204.75 230.85h2.9M205.98 234.46h2.9M207.22 231.55h2.9M208.45 232.36h2.9M209.69 233.64h2.9M210.92 229.24h2.9M212.16 234.46h2.9M213.39 234.86h2.9M214.62 232.75h2.9M215.86 231.62h2.9M217.09 233.71h2.9M218.33 236.12h2.9M219.56 232.34h2.9M220.8 232.64h2.9M222.03 229.29h2.9M223.27 234.68h2.9M224.5 233.7h2.9M225.74 235.51h2.9M226.97 237.62h2.9M228.21 233.94h2.9M229.44 232.08h2.9M230.67 236.34h2.9M231.91 235.46h2.9M233.14 236.53h2.9M234.38 230.56h2.9M235.61 235.04h2.9M236.85 232.1h2.9M238.08 235.34h2.9M239.32 233.03h2.9M240.55 234.54h2.9M241.79 238.42h2.9M243.02 232.67h2.9M244.26 231.51h2.9M245.49 237.49h2.9" fill="none" stroke="#ff0000" stroke-width="2.9"/>
<polyline points="81.5,320.49 82.75,318.81 84,317.59 85.25,314.55 86.5,314.63 87.75,309.93 88.99,306.81 90.24,307.94 91.49,304.6 92.74,300.92 93.99,300.73 95.24,299.73 96.49,298.43 97.74,295.29 98.99,293.88 100.24,291.14 101.49,292.03 102.74,287.04 103.98,287.11 105.23,284.04 106.48,283.97 107.73,282.91 108.98,280.23 110.23,278.92 111.48,276.41 112.73,273.33 113.98,270.98 115.23,270.22 116.48,269.24 117.72,267.18 118.97,263.89 120.22,261.2 121.47,260.99 122.72,258.73 123.97,257.5 125.22,254.34 126.47,251.48 127.72,254.4 128.97,248.68 130.22,247.97 131.47,248.55 132.71,243.73 133.96,242.65 135.21,240.48 136.46,241.06 137.71,235.21 138.96,236.33 140.21,235.66 141.46,232.31 142.71,232.6 143.96,231.85 145.21,230.99 146.45,234.6 147.7,229.6 148.95,231.82 150.2,230.84 151.45,229.95 152.7,231.98 153.95,230.7 155.2,230.15 156.45,231.15 157.7,230.48 158.95,233.09 160.2,232.57 161.44,232.52 162.69,230.63 163.94,226.45 165.19,230.77 166.44,231.28 167.69,231.17 168.94,229.87 170.19,230.21 171.44,232.52 172.69,229.83 173.94,231.12 175.18,230.08 176.43,233.57 177.68,233.02 178.93,230.35 180.18,233.33 181.43,230.61 182.68,230.67 183.93,230.91 185.18,230.65 186.43,230.77 187.68,230.57 188.92,231.66 190.17,231.22 191.42,227.61 192.67,229.9 193.92,230.62 195.17,230.97 196.42,232.44 197.67,231.34 198.92,232.02 200.17,230.64 201.42,233.05 202.67,234.94 203.91,232.81 205.16,231.36 206.41,229.28 207.66,231.16 208.91,233.75 210.16,232.91 211.41,233.92 212.66,233.06 213.91,234.03 215.16,235.05 216.41,232.54 217.65,232.92 218.9,233.44 220.15,232.85 221.4,230.81 222.65,233.22 223.9,233.87 225.15,232.34 226.4,235.46 227.65,232.48 228.9,234.38 230.15,234.43 231.4,233.28 232.64,231.34 233.89,234.34 235.14,232.24 236.39,232.95 237.64,235.15 238.89,232.28 240.14,234.45 241.39,235.24 242.64,234.4 243.89,234.32 245.14,232.69 246.38,234.33 247.63,231.58 248.88,233.22 250.13,234.5 251.38,234.81 252.63,233.69 253.88,236.74 255.13,237.19 256.38,235.89 257.63,234.33 258.88,235.22 260.13,235.76 261.37,236.39 262.62,239.17 263.87,237.2 265.12,239.32 266.37,236.38 267.62,237.7" fill="none" stroke="#0000ff" stroke-width="1.2" stroke-linejoin="round" stroke-linecap="round" />
<path d="M81.5 320.49h.01M82.75 318.81h.01M84 317.59h.01M85.25 314.55h.01M86.5 314.63h.01M87.75 309.93h.01M88.99 306.81h.01M90.24 307.94h.01M91.49 304.6h.01M92.74 300.92h.01M93.99 300.73h.01M95.24 299.73h.01M96.49 298.43h.01M97.74 295.29h.01M98.99 293.88h.01M100.24 291.14h.01M101.49 292.03h.01M102.74 287.04h.01M103.98 287.11h.01M105.23 284.04h.01M106.48 283.97h.01M107.73 282.91h.01M108.98 280.23h.01M110.23 278.92h.01M111.48 276.41h.01M112.73 273.33h.01M113.98 270.98h.01M115.23 270.22h.01M116.48 269.24h.01M117.72 267.18h.01M118.97 263.89h.01M120.22 261.2h.01M121.47 260.99h.01M122.72 258.73h.01M123.97 257.5h.01M125.22 254.34h.01M126.47 251.48h.01M127.72 254.4h.01M128.97 248.68h.01M130.22 247.97h.01M131.47 248.55h.01M132.71 243.73h.01M133.96 242.65h.01M135.21 240.48h.01M136.46 241.06h.01M137.71 235.21h.01M138.96 236.33h.01M140.21 235.66h.01M141.46 232.31h.01M142.71 232.6h.01M143.96 231.85h.01M145.21 230.99h.01M146.45 234.6h.01M147.7 229.6h.01M148.95 231.82h.01M150.2 230.84h.01M151.45 229.95h.01M152.7 231.98h.01M153.95 230.7h.01M155.2 230.15h.01M156.45 231.15h.01M157.7 230.48h.01M158.95 233.09h.01M160.2 232.57h.01M161.44 232.52h.01M162.69 230.63h.01M163.94 226.45h.01M165.19 230.77h.01M166.44 231.28h.01M167.69 231.17h.01M168.94 229.87h.01M170.19 230.21h.01M171.44 232.52h.01M172.69 229.83h.01M173.94 231.12h.01M175.18 230.08h.01M176.43 233.57h.01M177.68 233.02h.01M178.93 230.35h.01M180.18 233.33h.01M181.43 230.61h.01M182.68 230.67h.01M183.93 230.91h.01M185.18 230.65h.01M186.43 230.77h.01M187.68 230.57h.01M188.92 231.66h.01M190.17 231.22h.01M191.42 227.61h.01M192.67 229.9h.01M193.92 230.62h.01M195.17 230.97h.01M196.42 232.44h.01M197.67 231.34h.01M198.92 232.02h.01M200.17 230.64h.01M201.42 233.05h.01M202.67 234.94h.01M203.91 232.81h.01M205.16 231.36h.01M206.41 229.28h.01M207.66 231.16h.01M208.91 233.75h.01M210.16 232.91h.01M211.41 233.92h.01M212.66 233.06h.01M213.91 234.03h.01M215.16 235.05h.01M216.41 232.54h.01M217.65 232.92h.01M218.9 233.44h.01M220.15 232.85h.01M221.4 230.81h.01M222.65 233.22h.01M223.9 233.87h.01M225.15 232.34h.01M226.4 235.46h.01M227.65 232.48h.01M228.9 234.38h.01M230.15 234.43h.01M231.4 233.28h.01M232.64 231.34h.01M233.89 234.34h.01M235.14 232.24h.01M236.39 232.95h.01M237.64 235.15h.01M238.89 232.28h.01M240.14 234.45h.01M241.39 235.24h.01M242.64 234.4h.01M243.89 234.32h.01M245.14 232.69h.01M246.38 234.33h.01M247.63 231.58h.01M248.88 233.22h.01M250.13 234.5h.01M251.38 234.81h.01M252.63 233.69h.01M253.88 236.74h.01M255.13 237.19h.01M256.38 235.89h.01M257.63 234.33h.01M258.88 235.22h.01M260.13 235.76h.01M261.37 236.39h.01M262.62 239.17h.01M263.87 237.2h.01M265.12 239.32h.01M266.37 236.38h.01M267.62 237.7h.01" fill="none" stroke="#0000ff" stroke-width="3.5" stroke-linecap="round"/>
<rect x="81.5" y="202.4" width="206.8" height="155.1" fill="none" stroke="#000" stroke-width="1.05"/>
<path d="M81.5 357.5v-3.6M81.5 202.4v3.6M89.77 357.5v-1.8M89.77 202.4v1.8M98.04 357.5v-1.8M98.04 202.4v1.8M106.32 357.5v-1.8M106.32 202.4v1.8M114.59 357.5v-1.8M114.59 202.4v1.8M122.86 357.5v-3.6M122.86 202.4v3.6M131.13 357.5v-1.8M131.13 202.4v1.8M139.4 357.5v-1.8M139.4 202.4v1.8M147.68 357.5v-1.8M147.68 202.4v1.8M155.95 357.5v-1.8M155.95 202.4v1.8M164.22 357.5v-3.6M164.22 202.4v3.6M172.49 357.5v-1.8M172.49 202.4v1.8M180.76 357.5v-1.8M180.76 202.4v1.8M189.04 357.5v-1.8M189.04 202.4v1.8M197.31 357.5v-1.8M197.31 202.4v1.8M205.58 357.5v-3.6M205.58 202.4v3.6M213.85 357.5v-1.8M213.85 202.4v1.8M222.12 357.5v-1.8M222.12 202.4v1.8M230.4 357.5v-1.8M230.4 202.4v1.8M238.67 357.5v-1.8M238.67 202.4v1.8M246.94 357.5v-3.6M246.94 202.4v3.6M255.21 357.5v-1.8M255.21 202.4v1.8M263.48 357.5v-1.8M263.48 202.4v1.8M271.76 357.5v-1.8M271.76 202.4v1.8M280.03 357.5v-1.8M280.03 202.4v1.8M288.3 357.5v-3.6M288.3 202.4v3.6M81.5 357.5h3.6M288.3 357.5h-3.6M81.5 349.75h1.8M288.3 349.75h-1.8M81.5 341.99h1.8M288.3 341.99h-1.8M81.5 334.24h1.8M288.3 334.24h-1.8M81.5 326.48h3.6M288.3 326.48h-3.6M81.5 318.73h1.8M288.3 318.73h-1.8M81.5 310.97h1.8M288.3 310.97h-1.8M81.5 303.22h1.8M288.3 303.22h-1.8M81.5 295.46h3.6M288.3 295.46h-3.6M81.5 287.7h1.8M288.3 287.7h-1.8M81.5 279.95h1.8M288.3 279.95h-1.8M81.5 272.19h1.8M288.3 272.19h-1.8M81.5 264.44h3.6M288.3 264.44h-3.6M81.5 256.69h1.8M288.3 256.69h-1.8M81.5 248.93h1.8M288.3 248.93h-1.8M81.5 241.18h1.8M288.3 241.18h-1.8M81.5 233.42h3.6M288.3 233.42h-3.6M81.5 225.67h1.8M288.3 225.67h-1.8M81.5 217.91h1.8M288.3 217.91h-1.8M81.5 210.16h1.8M288.3 210.16h-1.8M81.5 202.4h3.6M288.3 202.4h-3.6" stroke="#000" stroke-width="0.75" fill="none"/>
<text x="73" y="362.2" font-size="13.7" text-anchor="end">0</text>
<text x="73" y="331.18" font-size="13.7" text-anchor="end">4</text>
<text x="73" y="300.16" font-size="13.7" text-anchor="end">8</text>
<text x="73" y="269.14" font-size="13.7" text-anchor="end">12</text>
<text x="73" y="238.12" font-size="13.7" text-anchor="end">16</text>
<text x="73" y="207.1" font-size="13.7" text-anchor="end">20</text>
<text x="83.5" y="376.6" font-size="13.7" text-anchor="middle">0</text>
<text x="124.86" y="376.6" font-size="13.7" text-anchor="middle">1</text>
<text x="166.22" y="376.6" font-size="13.7" text-anchor="middle">2</text>
<text x="207.58" y="376.6" font-size="13.7" text-anchor="middle">3</text>
<text x="248.94" y="376.6" font-size="13.7" text-anchor="middle">4</text>
<text x="290.3" y="376.6" font-size="13.7" text-anchor="middle">5</text>
<text x="157.4" y="218.8" font-size="12.5" fill="#000" text-anchor="start" >Sample + Background</text>
<text x="91.5" y="245.8" font-size="12.5" fill="#0000ff" text-anchor="start" ><tspan font-style="italic">H // b'</tspan></text>
<text x="181.7" y="261.4" font-size="12.5" fill="#ff0000" text-anchor="start" ><tspan font-style="italic">H // a</tspan></text>
<text x="118.9" y="339.5" font-size="12.5" fill="#000" text-anchor="start" >Background</text>
<text x="203.2" y="339.5" font-size="12.5" fill="#0000ff" text-anchor="start" ><tspan font-style="italic">H // b'</tspan></text>
<text x="247.6" y="339.5" font-size="12.5" fill="#ff0000" text-anchor="start" ><tspan font-style="italic">H // a</tspan></text>
<text x="86.3" y="197.7" font-size="16.3" fill="#000" text-anchor="start" >(b)</text>
<text x="284.3" y="196" font-size="14.2" fill="#000" text-anchor="end" >0.11 K, 10 Hz</text>
<polyline points="329.3,145.26 343.09,145.26 356.87,144.96 370.66,145.06 384.45,145.06 398.23,145.26 412.02,145.16 425.81,144.87 439.59,144.48 453.38,144.29 467.17,144.67 480.95,144.09 494.74,144.48 508.53,143.32 522.31,144.67 536.1,144.67" fill="none" stroke="#006400" stroke-width="0.8" stroke-linejoin="round" stroke-linecap="round" stroke-opacity="0.75"/>
<path d="M328.3 145.26h2M342.09 145.26h2M355.87 144.96h2M369.66 145.06h2M383.45 145.06h2M397.23 145.26h2M411.02 145.16h2M424.81 144.87h2M438.59 144.48h2M452.38 144.29h2M466.17 144.67h2M479.95 144.09h2M493.74 144.48h2M507.53 143.32h2M521.31 144.67h2M535.1 144.67h2" fill="none" stroke="#006400" stroke-width="2"/>
<polyline points="329.3,46.36 329.72,46.21 330.14,46.18 330.56,46.44 330.98,46.92 331.4,46.88 331.81,46.15 332.23,45.31 332.65,45.45 333.07,45.68 333.49,46.12 333.91,45.87 334.33,46.23 334.75,45.99 335.17,45.4 335.59,44.89 336,44.38 336.42,45.27 336.84,45.71 337.26,46.18 337.68,45.69 338.1,45.48 338.52,45.09 338.94,45.41 339.36,44.84 339.78,44.82 340.2,44.97 340.61,45.19 341.03,45.55 341.45,44.79 341.87,45.13 342.29,44.92 342.71,45.04 343.13,45.75 343.55,46.46 343.97,46.56 344.39,45.65 344.8,44.64 345.22,44.57 345.64,44.92 346.06,45.12 346.48,45.41 346.9,45.03 347.32,45.27 347.74,44.87 348.16,45.24 348.58,45.41 349,46.25 349.41,45.02 349.83,44.95 350.25,44.47 350.67,45.55 351.09,45.41 351.51,45.25 351.93,44.64 352.35,44.35 352.77,44.08 353.19,44.48 353.6,44.56 354.02,44.25 354.44,44.08 354.86,44.01 355.28,45.21 355.7,45.16 356.12,45.34 356.54,44.41 356.96,45.71 357.38,46 357.8,46.69 358.21,46.02 358.63,46.59 359.05,46.88 359.47,47.12 359.89,47.39 360.31,48.1 360.73,48.98 361.15,49.73 361.57,50.24 361.99,51.05 362.4,52.24 362.82,52.46 363.24,53.47 363.66,53.5 364.08,55.04 364.5,55.17 364.92,56.06 365.34,56.22 365.76,57.01 366.18,57.75 366.6,58.3 367.01,58.26 367.43,58.42 367.85,59.19 368.27,60.7 368.69,61.54 369.11,62.09 369.53,62.6 369.95,62.87 370.37,63.59 370.79,63.75 371.2,64.65 371.62,65.16 372.04,65.48 372.46,65.42 372.88,65.35 373.3,65.96 373.72,66.53 374.14,66.83 374.56,67.28 374.98,66.84 375.4,66.88 375.81,66.38 376.23,67.1 376.65,67.06 377.07,67.28 377.49,66.52 377.91,66.77 378.33,67.29 378.75,67.78 379.17,68.19 379.59,67.96 380,68.38 380.42,68.34 380.84,68.17 381.26,67.93 381.68,67.82 382.1,68.24 382.52,69.04 382.94,69.55 383.36,69.28 383.78,68.62 384.2,67.82 384.61,68.48 385.03,68.82 385.45,69.58 385.87,69.34 386.29,69.39 386.71,69.47 387.13,69.49 387.55,69.82 387.97,69.67 388.39,69.28 388.8,68.57 389.22,68.93 389.64,69.68 390.06,70.36 390.48,70.51 390.9,69.84 391.32,70.06 391.74,69.78 392.16,70.6 392.58,70.46 393,70.44 393.41,69.49 393.83,69.62 394.25,69.58 394.67,70.81 395.09,71 395.51,71.41 395.93,70.9 396.35,70.36 396.77,69.89 397.19,70.28 397.6,70.26 398.02,70.86 398.44,69.72 398.86,69.8 399.28,69.39 399.7,70.08 400.12,70.21 400.54,70.27 400.96,70.45 401.38,70.2 401.8,70.12 402.21,69.65 402.63,69.93 403.05,69.8 403.47,70.32 403.89,69.11 404.31,69.58 404.73,69.49 405.15,70.37 405.57,69.72 405.99,69.85 406.4,70.74 406.82,71.63 407.24,71.7 407.66,71.41 408.08,71 408.5,70.33 408.92,69.71 409.34,69.86 409.76,70.03 410.18,70.1 410.6,69.43 411.01,69.67 411.43,70.22 411.85,70.44 412.27,69.88 412.69,69.81 413.11,69.41 413.53,69.34 413.95,69.26 414.37,70.44 414.79,71.22 415.2,71.26 415.62,70.55 416.04,70.92 416.46,69.99 416.88,69.38 417.3,69.06 417.72,70.51 418.14,71.35 418.56,70.97 418.98,69.9 419.4,69.6 419.81,69.82 420.23,70.93 420.65,71 421.07,70.65 421.49,70.1 421.91,70.18 422.33,70.4 422.75,70.38 423.17,70.86 423.59,70.81 424,71.21 424.42,70.35 424.84,70.77 425.26,70.13 425.68,70.85 426.1,70.42 426.52,70.66 426.94,70.24 427.36,70.64 427.78,71.11 428.2,71.39 428.61,71.24 429.03,71.2 429.45,71.34 429.87,71.79 430.29,71.25 430.71,71.14 431.13,70.58 431.55,69.74 431.97,69.56 432.39,69.44 432.8,70.11 433.22,70.21 433.64,70.54 434.06,70.45 434.48,70.06 434.9,70.84 435.32,71.2 435.74,71.66 436.16,70.87 436.58,70.4 437,70.46 437.41,69.99 437.83,70.59 438.25,70.55 438.67,70.59 439.09,70.66 439.51,70.58 439.93,71.2 440.35,71.25 440.77,70.95 441.19,70.38 441.6,70.47 442.02,71.11 442.44,70.46 442.86,70.29 443.28,70.19 443.7,70.87 444.12,70.92 444.54,70.75 444.96,70.62 445.38,70.03 445.8,69.97 446.21,69.82 446.63,70.21 447.05,70.22 447.47,70.67 447.89,70.73 448.31,70.47 448.73,70.38 449.15,70.54 449.57,70.65 449.99,70.93 450.4,70.87 450.82,70.97 451.24,70.45 451.66,70.17 452.08,69.69 452.5,69.51 452.92,69.62 453.34,70.25 453.76,71.04 454.18,70.93 454.6,70.44 455.01,69.65 455.43,70.18 455.85,70.16 456.27,70.33 456.69,69.08 457.11,69.32 457.53,69.7 457.95,71.02 458.37,71.35 458.79,71.71 459.2,71.54 459.62,71.58 460.04,71.73 460.46,71.42 460.88,70.99 461.3,70.22 461.72,70.22 462.14,69.99 462.56,69.89 462.98,70.37 463.4,70.82 463.81,71.6 464.23,71.42 464.65,71.26 465.07,70.89 465.49,70.07 465.91,69.44 466.33,69.26 466.75,69.82 467.17,70.55" fill="none" stroke="#006400" stroke-width="2.4" stroke-linejoin="round" stroke-linecap="round" />
<path d="M329.3 44.5l1.5 2.6h-3zM331.81 44.92l1.5 2.6h-3zM334.33 44.37l1.5 2.6h-3zM336.84 44.25l1.5 2.6h-3zM339.36 42.75l1.5 2.6h-3zM341.87 42.89l1.5 2.6h-3zM344.39 43.22l1.5 2.6h-3zM346.9 43.52l1.5 2.6h-3zM349.41 44.09l1.5 2.6h-3zM351.93 43.87l1.5 2.6h-3zM354.44 42.64l1.5 2.6h-3zM356.96 44.81l1.5 2.6h-3zM359.47 46.34l1.5 2.6h-3zM361.99 49.64l1.5 2.6h-3zM364.5 54.07l1.5 2.6h-3zM367.01 56.35l1.5 2.6h-3zM369.53 60.08l1.5 2.6h-3zM372.04 64.01l1.5 2.6h-3zM374.56 65.54l1.5 2.6h-3zM377.07 66.46l1.5 2.6h-3zM379.59 66.28l1.5 2.6h-3zM382.1 66.99l1.5 2.6h-3zM384.61 67.43l1.5 2.6h-3zM387.13 68.81l1.5 2.6h-3zM389.64 67.32l1.5 2.6h-3zM392.16 69.79l1.5 2.6h-3zM394.67 69.81l1.5 2.6h-3zM397.19 68.69l1.5 2.6h-3zM399.7 68.35l1.5 2.6h-3zM402.21 67.92l1.5 2.6h-3zM404.73 67.85l1.5 2.6h-3zM407.24 70.54l1.5 2.6h-3zM409.76 68.07l1.5 2.6h-3zM412.27 68.2l1.5 2.6h-3zM414.79 70.34l1.5 2.6h-3zM417.3 66.7l1.5 2.6h-3zM419.81 68.39l1.5 2.6h-3zM422.33 68.35l1.5 2.6h-3zM424.84 69.89l1.5 2.6h-3zM427.36 69.62l1.5 2.6h-3zM429.87 70.47l1.5 2.6h-3zM432.39 68.19l1.5 2.6h-3zM434.9 68.76l1.5 2.6h-3zM437.41 69.18l1.5 2.6h-3zM439.93 69.52l1.5 2.6h-3zM442.44 69.36l1.5 2.6h-3zM444.96 68.78l1.5 2.6h-3zM447.47 68.98l1.5 2.6h-3zM449.99 69.61l1.5 2.6h-3zM452.5 66.84l1.5 2.6h-3zM455.01 68.07l1.5 2.6h-3zM457.53 67.57l1.5 2.6h-3zM460.04 70.78l1.5 2.6h-3zM462.56 68.36l1.5 2.6h-3zM465.07 69.25l1.5 2.6h-3z" fill="#006400" stroke="none"/>
<rect x="329.3" y="20.4" width="206.8" height="155.1" fill="none" stroke="#000" stroke-width="1.05"/>
<path d="M329.3 175.5v-3.6M329.3 20.4v3.6M343.09 175.5v-1.8M343.09 20.4v1.8M356.87 175.5v-1.8M356.87 20.4v1.8M370.66 175.5v-1.8M370.66 20.4v1.8M384.45 175.5v-1.8M384.45 20.4v1.8M398.23 175.5v-3.6M398.23 20.4v3.6M412.02 175.5v-1.8M412.02 20.4v1.8M425.81 175.5v-1.8M425.81 20.4v1.8M439.59 175.5v-1.8M439.59 20.4v1.8M453.38 175.5v-1.8M453.38 20.4v1.8M467.17 175.5v-3.6M467.17 20.4v3.6M480.95 175.5v-1.8M480.95 20.4v1.8M494.74 175.5v-1.8M494.74 20.4v1.8M508.53 175.5v-1.8M508.53 20.4v1.8M522.31 175.5v-1.8M522.31 20.4v1.8M536.1 175.5v-3.6M536.1 20.4v3.6M329.3 175.5h3.6M536.1 175.5h-3.6M329.3 165.81h1.8M536.1 165.81h-1.8M329.3 156.11h1.8M536.1 156.11h-1.8M329.3 146.42h1.8M536.1 146.42h-1.8M329.3 136.72h3.6M536.1 136.72h-3.6M329.3 127.03h1.8M536.1 127.03h-1.8M329.3 117.34h1.8M536.1 117.34h-1.8M329.3 107.64h1.8M536.1 107.64h-1.8M329.3 97.95h3.6M536.1 97.95h-3.6M329.3 88.26h1.8M536.1 88.26h-1.8M329.3 78.56h1.8M536.1 78.56h-1.8M329.3 68.87h1.8M536.1 68.87h-1.8M329.3 59.18h3.6M536.1 59.18h-3.6M329.3 49.48h1.8M536.1 49.48h-1.8M329.3 39.79h1.8M536.1 39.79h-1.8M329.3 30.09h1.8M536.1 30.09h-1.8M329.3 20.4h3.6M536.1 20.4h-3.6" stroke="#000" stroke-width="0.75" fill="none"/>
<text x="320.8" y="180.2" font-size="13.7" text-anchor="end">0</text>
<text x="320.8" y="141.43" font-size="13.7" text-anchor="end">4</text>
<text x="320.8" y="102.65" font-size="13.7" text-anchor="end">8</text>
<text x="320.8" y="63.88" font-size="13.7" text-anchor="end">12</text>
<text x="320.8" y="25.1" font-size="13.7" text-anchor="end">16</text>
<text x="362.2" y="92.9" font-size="12.5" fill="#006400" text-anchor="start" >Sample + Background <tspan font-style="italic">H // c*</tspan></text>
<text x="418.7" y="132.3" font-size="12.5" fill="#006400" text-anchor="start" >Background <tspan font-style="italic">H // c*</tspan></text>
<text x="334.3" y="15.7" font-size="16.3" fill="#000" text-anchor="start" >(c)</text>
<text x="532.3" y="14" font-size="14.2" fill="#000" text-anchor="end" >0.90 K, 34 Hz</text>
<polyline points="329.3,349.61 330.69,350.24 332.08,350.88 333.46,353.87 334.85,350.54 336.24,351 337.63,350.12 339.02,348.65 340.4,346.86 341.79,349.08 343.18,348.44 344.57,348.95 345.96,348.82 347.34,349 348.73,350.12 350.12,350.2 351.51,349.34 352.89,347.4 354.28,348.74 355.67,347.65 357.06,351.48 358.45,349.42 359.83,349.24 361.22,349.08 362.61,351.57 364,352.19 365.39,352.56 366.77,350.29 368.16,346.67 369.55,349.47 370.94,351.35 372.33,349.31 373.71,350.15 375.1,349.53 376.49,350.35 377.88,351.46 379.27,350.45 380.65,348.81 382.04,349.35 383.43,348.14 384.82,351.16 386.2,348.36 387.59,349.66 388.98,349.48 390.37,348.09 391.76,349.91 393.14,349.4 394.53,348.89 395.92,348.87 397.31,348.65 398.7,348.02 400.08,349.02 401.47,350.29 402.86,346.48 404.25,349.74 405.64,349.19 407.02,350.66 408.41,352.54 409.8,350.68 411.19,349.55 412.58,348.92 413.96,349.57 415.35,348.54 416.74,348.27 418.13,348.25 419.51,349.53 420.9,349.4 422.29,349.78 423.68,350.62 425.07,347.57 426.45,351.06 427.84,349.49 429.23,349.07 430.62,352.17 432.01,348.34 433.39,349.75 434.78,348.97 436.17,349.67 437.56,351.23 438.95,348.92 440.33,349.01 441.72,347.8 443.11,348.46 444.5,351.27 445.89,347.57 447.27,347.94 448.66,347.95 450.05,348.28 451.44,349.82 452.82,348.16 454.21,349.31 455.6,344.99 456.99,349.07 458.38,350.19 459.76,349.14 461.15,346.76 462.54,349.38 463.93,351.82 465.32,346.63 466.7,348.1 468.09,349.16 469.48,347.53 470.87,349.65 472.26,349.95 473.64,347.11 475.03,349.01 476.42,347.59 477.81,348.23 479.2,347.11 480.58,348.03 481.97,350.83 483.36,347.19 484.75,348.67 486.13,346.83 487.52,347.8 488.91,346.03 490.3,348.27 491.69,350.52 493.07,348.19 494.46,347.04 495.85,348.12 497.24,348.24 498.63,345.63 500.01,347.72 501.4,346.08 502.79,347.22 504.18,349.27 505.57,348.56 506.95,347.68 508.34,346.81 509.73,348.23 511.12,348.97 512.51,348.4 513.89,347.69 515.28,348.12 516.67,347.67 518.06,344.4 519.44,346.43 520.83,347.83 522.22,346.71 523.61,344.57 525,345.74 526.38,346.68 527.77,348.28 529.16,348.69 530.55,346.85 531.94,346.49 533.32,348.44 534.71,348.02 536.1,346.26" fill="none" stroke="#006400" stroke-width="1.0" stroke-linejoin="round" stroke-linecap="round" />
<path d="M328.5 349.61h1.6M331.28 350.88h1.6M334.05 350.54h1.6M336.83 350.12h1.6M339.6 346.86h1.6M342.38 348.44h1.6M345.16 348.82h1.6M347.93 350.12h1.6M350.71 349.34h1.6M353.48 348.74h1.6M356.26 351.48h1.6M359.03 349.24h1.6M361.81 351.57h1.6M364.59 352.56h1.6M367.36 346.67h1.6M370.14 351.35h1.6M372.91 350.15h1.6M375.69 350.35h1.6M378.47 350.45h1.6M381.24 349.35h1.6M384.02 351.16h1.6M386.79 349.66h1.6M389.57 348.09h1.6M392.34 349.4h1.6M395.12 348.87h1.6M397.9 348.02h1.6M400.67 350.29h1.6M403.45 349.74h1.6M406.22 350.66h1.6M409 350.68h1.6M411.78 348.92h1.6M414.55 348.54h1.6M417.33 348.25h1.6M420.1 349.4h1.6M422.88 350.62h1.6M425.65 351.06h1.6M428.43 349.07h1.6M431.21 348.34h1.6M433.98 348.97h1.6M436.76 351.23h1.6M439.53 349.01h1.6M442.31 348.46h1.6M445.09 347.57h1.6M447.86 347.95h1.6M450.64 349.82h1.6M453.41 349.31h1.6M456.19 349.07h1.6M458.96 349.14h1.6M461.74 349.38h1.6M464.52 346.63h1.6M467.29 349.16h1.6M470.07 349.65h1.6M472.84 347.11h1.6M475.62 347.59h1.6M478.4 347.11h1.6M481.17 350.83h1.6M483.95 348.67h1.6M486.72 347.8h1.6M489.5 348.27h1.6M492.27 348.19h1.6M495.05 348.12h1.6M497.83 345.63h1.6M500.6 346.08h1.6M503.38 349.27h1.6M506.15 347.68h1.6M508.93 348.23h1.6M511.71 348.4h1.6M514.48 348.12h1.6M517.26 344.4h1.6M520.03 347.83h1.6M522.81 344.57h1.6M525.58 346.68h1.6M528.36 348.69h1.6M531.14 346.49h1.6M533.91 348.02h1.6" fill="none" stroke="#006400" stroke-width="1.6"/>
<polyline points="329.3,318.73 331.2,317.19 333.09,312.32 334.99,308.53 336.89,305.84 338.79,303.13 340.68,300.96 342.58,300.24 344.48,299.99 346.38,296.16 348.27,295.24 350.17,294.66 352.07,295.15 353.96,292.71 355.86,294.06 357.76,291.17 359.66,292.27 361.55,289.14 363.45,286.67 365.35,286.67 367.24,284.05 369.14,284.67 371.04,283.53 372.94,282.88 374.83,280.94 376.73,280.39 378.63,278 380.53,276.45 382.42,276.58 384.32,277 386.22,274.26 388.11,272.47 390.01,272.23 391.91,271.68 393.81,270.13 395.7,268.87 397.6,271.98 399.5,266.97 401.4,266.9 403.29,266.38 405.19,266.62 407.09,265.03 408.98,263.87 410.88,265.21 412.78,262.2 414.68,262.15 416.57,260.02 418.47,260.11 420.37,260.28 422.27,259.37 424.16,258.1 426.06,257.94 427.96,256.9 429.85,257.56 431.75,257.51 433.65,256.27 435.55,256.6 437.44,255.41 439.34,253.75 441.24,255.26 443.13,254.39 445.03,251.96 446.93,252.83 448.83,251.93 450.72,252.79 452.62,252.2 454.52,251.07 456.42,248.76 458.31,249.65 460.21,251.54 462.11,249.24 464,248.72 465.9,249.28 467.8,251.95 469.7,251.68 471.59,250.28 473.49,253.88 475.39,253.07 477.29,254.61 479.18,255.52 481.08,254.96 482.98,253.63 484.87,253.42 486.77,255 488.67,253.89 490.57,253.58 492.46,254.24 494.36,251.37 496.26,250.71 498.16,251.36 500.05,254.02 501.95,252.75 503.85,253.19 505.74,254.54 507.64,254 509.54,254.14 511.44,253.34 513.33,251.69 515.23,254.75 517.13,255.64 519.02,254.3 520.92,255.77 522.82,258.11 524.72,257.02 526.61,255.96 528.51,254.72 530.41,253.2 532.31,252.79 534.2,254.77 536.1,255.3" fill="none" stroke="#006400" stroke-width="1.2" stroke-linejoin="round" stroke-linecap="round" />
<path d="M329.3 316.58l2 3.46h-4zM331.2 315.04l2 3.46h-4zM333.09 310.17l2 3.46h-4zM334.99 306.38l2 3.46h-4zM336.89 303.7l2 3.46h-4zM338.79 300.99l2 3.46h-4zM340.68 298.82l2 3.46h-4zM342.58 298.1l2 3.46h-4zM344.48 297.84l2 3.46h-4zM346.38 294.01l2 3.46h-4zM348.27 293.09l2 3.46h-4zM350.17 292.51l2 3.46h-4zM352.07 293l2 3.46h-4zM353.96 290.56l2 3.46h-4zM355.86 291.91l2 3.46h-4zM357.76 289.02l2 3.46h-4zM359.66 290.12l2 3.46h-4zM361.55 287l2 3.46h-4zM363.45 284.52l2 3.46h-4zM365.35 284.52l2 3.46h-4zM367.24 281.91l2 3.46h-4zM369.14 282.52l2 3.46h-4zM371.04 281.39l2 3.46h-4zM372.94 280.73l2 3.46h-4zM374.83 278.8l2 3.46h-4zM376.73 278.24l2 3.46h-4zM378.63 275.86l2 3.46h-4zM380.53 274.3l2 3.46h-4zM382.42 274.43l2 3.46h-4zM384.32 274.85l2 3.46h-4zM386.22 272.11l2 3.46h-4zM388.11 270.32l2 3.46h-4zM390.01 270.09l2 3.46h-4zM391.91 269.53l2 3.46h-4zM393.81 267.98l2 3.46h-4zM395.7 266.72l2 3.46h-4zM397.6 269.83l2 3.46h-4zM399.5 264.83l2 3.46h-4zM401.4 264.75l2 3.46h-4zM403.29 264.23l2 3.46h-4zM405.19 264.47l2 3.46h-4zM407.09 262.89l2 3.46h-4zM408.98 261.72l2 3.46h-4zM410.88 263.06l2 3.46h-4zM412.78 260.06l2 3.46h-4zM414.68 260l2 3.46h-4zM416.57 257.87l2 3.46h-4zM418.47 257.97l2 3.46h-4zM420.37 258.13l2 3.46h-4zM422.27 257.22l2 3.46h-4zM424.16 255.95l2 3.46h-4zM426.06 255.79l2 3.46h-4zM427.96 254.75l2 3.46h-4zM429.85 255.41l2 3.46h-4zM431.75 255.36l2 3.46h-4zM433.65 254.12l2 3.46h-4zM435.55 254.45l2 3.46h-4zM437.44 253.26l2 3.46h-4zM439.34 251.6l2 3.46h-4zM441.24 253.11l2 3.46h-4zM443.13 252.24l2 3.46h-4zM445.03 249.81l2 3.46h-4zM446.93 250.68l2 3.46h-4zM448.83 249.78l2 3.46h-4zM450.72 250.64l2 3.46h-4zM452.62 250.06l2 3.46h-4zM454.52 248.92l2 3.46h-4zM456.42 246.62l2 3.46h-4zM458.31 247.5l2 3.46h-4zM460.21 249.39l2 3.46h-4zM462.11 247.1l2 3.46h-4zM464 246.57l2 3.46h-4zM465.9 247.14l2 3.46h-4zM467.8 249.8l2 3.46h-4zM469.7 249.53l2 3.46h-4zM471.59 248.13l2 3.46h-4zM473.49 251.74l2 3.46h-4zM475.39 250.92l2 3.46h-4zM477.29 252.46l2 3.46h-4zM479.18 253.37l2 3.46h-4zM481.08 252.81l2 3.46h-4zM482.98 251.49l2 3.46h-4zM484.87 251.27l2 3.46h-4zM486.77 252.85l2 3.46h-4zM488.67 251.74l2 3.46h-4zM490.57 251.44l2 3.46h-4zM492.46 252.09l2 3.46h-4zM494.36 249.22l2 3.46h-4zM496.26 248.56l2 3.46h-4zM498.16 249.21l2 3.46h-4zM500.05 251.87l2 3.46h-4zM501.95 250.61l2 3.46h-4zM503.85 251.05l2 3.46h-4zM505.74 252.39l2 3.46h-4zM507.64 251.86l2 3.46h-4zM509.54 251.99l2 3.46h-4zM511.44 251.19l2 3.46h-4zM513.33 249.54l2 3.46h-4zM515.23 252.61l2 3.46h-4zM517.13 253.49l2 3.46h-4zM519.02 252.15l2 3.46h-4zM520.92 253.62l2 3.46h-4zM522.82 255.96l2 3.46h-4zM524.72 254.87l2 3.46h-4zM526.61 253.81l2 3.46h-4zM528.51 252.57l2 3.46h-4zM530.41 251.05l2 3.46h-4zM532.31 250.65l2 3.46h-4zM534.2 252.62l2 3.46h-4zM536.1 253.15l2 3.46h-4z" fill="#006400" stroke="none"/>
<rect x="329.3" y="202.4" width="206.8" height="155.1" fill="none" stroke="#000" stroke-width="1.05"/>
<path d="M329.3 357.5v-3.6M329.3 202.4v3.6M343.09 357.5v-1.8M343.09 202.4v1.8M356.87 357.5v-1.8M356.87 202.4v1.8M370.66 357.5v-1.8M370.66 202.4v1.8M384.45 357.5v-1.8M384.45 202.4v1.8M398.23 357.5v-3.6M398.23 202.4v3.6M412.02 357.5v-1.8M412.02 202.4v1.8M425.81 357.5v-1.8M425.81 202.4v1.8M439.59 357.5v-1.8M439.59 202.4v1.8M453.38 357.5v-1.8M453.38 202.4v1.8M467.17 357.5v-3.6M467.17 202.4v3.6M480.95 357.5v-1.8M480.95 202.4v1.8M494.74 357.5v-1.8M494.74 202.4v1.8M508.53 357.5v-1.8M508.53 202.4v1.8M522.31 357.5v-1.8M522.31 202.4v1.8M536.1 357.5v-3.6M536.1 202.4v3.6M329.3 357.5h3.6M536.1 357.5h-3.6M329.3 349.75h1.8M536.1 349.75h-1.8M329.3 341.99h1.8M536.1 341.99h-1.8M329.3 334.24h1.8M536.1 334.24h-1.8M329.3 326.48h3.6M536.1 326.48h-3.6M329.3 318.73h1.8M536.1 318.73h-1.8M329.3 310.97h1.8M536.1 310.97h-1.8M329.3 303.22h1.8M536.1 303.22h-1.8M329.3 295.46h3.6M536.1 295.46h-3.6M329.3 287.7h1.8M536.1 287.7h-1.8M329.3 279.95h1.8M536.1 279.95h-1.8M329.3 272.19h1.8M536.1 272.19h-1.8M329.3 264.44h3.6M536.1 264.44h-3.6M329.3 256.69h1.8M536.1 256.69h-1.8M329.3 248.93h1.8M536.1 248.93h-1.8M329.3 241.18h1.8M536.1 241.18h-1.8M329.3 233.42h3.6M536.1 233.42h-3.6M329.3 225.67h1.8M536.1 225.67h-1.8M329.3 217.91h1.8M536.1 217.91h-1.8M329.3 210.16h1.8M536.1 210.16h-1.8M329.3 202.4h3.6M536.1 202.4h-3.6" stroke="#000" stroke-width="0.75" fill="none"/>
<text x="320.8" y="362.2" font-size="13.7" text-anchor="end">0</text>
<text x="320.8" y="331.18" font-size="13.7" text-anchor="end">4</text>
<text x="320.8" y="300.16" font-size="13.7" text-anchor="end">8</text>
<text x="320.8" y="269.14" font-size="13.7" text-anchor="end">12</text>
<text x="320.8" y="238.12" font-size="13.7" text-anchor="end">16</text>
<text x="320.8" y="207.1" font-size="13.7" text-anchor="end">20</text>
<text x="331.3" y="376.6" font-size="13.7" text-anchor="middle">0</text>
<text x="400.23" y="376.6" font-size="13.7" text-anchor="middle">0.05</text>
<text x="469.17" y="376.6" font-size="13.7" text-anchor="middle">0.1</text>
<text x="538.1" y="376.6" font-size="13.7" text-anchor="middle">0.15</text>
<text x="362.2" y="238.2" font-size="12.5" fill="#006400" text-anchor="start" >Sample + Background <tspan font-style="italic">H // c*</tspan></text>
<text x="418.7" y="338.7" font-size="12.5" fill="#006400" text-anchor="start" >Background <tspan font-style="italic">H // c*</tspan></text>
<text x="334.3" y="197.7" font-size="16.3" fill="#000" text-anchor="start" >(d)</text>
<text x="532.3" y="196" font-size="14.2" fill="#000" text-anchor="end" >0.11 K, 10 Hz</text>
<polyline points="582.87,146.08 583.67,145.54 584.47,145.44 585.27,145.93 586.07,146.08 586.87,145.21 587.67,145.56 588.47,146.13 589.27,146.38 590.07,145.94 590.87,145.48 591.67,146.02 592.47,145.93 593.27,146 594.08,145.65 594.88,145.42 595.68,146.24 596.48,145.94 597.28,145.91 598.08,146.04 598.88,146.22 599.68,145.6 600.48,145.8 601.28,145.63 602.08,145.38 602.88,145.96 603.68,145.68 604.48,145.97 605.28,145.88 606.08,145.75 606.88,145.9 607.68,146.32 608.48,145.38 609.28,145.8 610.08,146.2 610.88,146.53 611.68,145.86 612.48,145.65 613.28,145.54 614.08,145.5 614.89,145.97 615.69,145.65 616.49,146.33 617.29,145.8 618.09,145.56 618.89,146.04 619.69,145.9 620.49,145.82 621.29,145.81 622.09,145.39 622.89,146.18 623.69,145.43 624.49,146.24 625.29,146.06 626.09,146.09 626.89,145.88 627.69,146 628.49,145.7 629.29,145.84 630.09,145.16 630.89,145.73 631.69,145.93 632.49,145.73 633.29,145.66 634.09,145.91 634.89,146.19 635.69,146.1 636.5,145.79 637.3,145.59 638.1,145.7 638.9,145.87 639.7,145.67 640.5,146 641.3,145.77 642.1,145.41 642.9,145.5 643.7,145.43 644.5,145.96 645.3,145.78 646.1,146.16 646.9,145.56 647.7,145.98 648.5,146.26 649.3,146 650.1,145.77 650.9,146.53 651.7,146.29 652.5,145.54 653.3,145.82 654.1,145.86 654.9,146.35 655.7,145.36 656.5,145.53 657.31,145.63 658.11,146.19 658.91,145.67 659.71,145.49 660.51,145.95 661.31,145.93 662.11,146 662.91,145.66 663.71,145.92 664.51,145.95 665.31,146.3 666.11,146.37 666.91,145.56 667.71,145.36 668.51,145.58 669.31,145.41 670.11,146.02 670.91,145.87 671.71,145.73 672.51,145.9 673.31,145.33 674.11,146.26 674.91,146.03 675.71,145.96 676.51,146.07 677.31,145.59 678.11,146.47 678.92,145.5 679.72,145.57 680.52,145.75 681.32,145.42 682.12,145.12 682.92,145.79 683.72,145.62 684.52,145.73 685.32,145.69 686.12,146.01 686.92,146.07 687.72,145.66 688.52,146.01 689.32,145.56 690.12,145.6 690.92,145.99 691.72,145.73 692.52,145.82 693.32,145.89 694.12,145.49 694.92,145.83 695.72,145.77 696.52,146.45 697.32,145.66 698.12,146.29 698.92,145.96 699.72,145.35 700.53,145.29 701.33,145.97 702.13,146.23 702.93,145.72 703.73,145.97 704.53,145.74 705.33,146.26 706.13,145.5 706.93,145.36 707.73,146.29 708.53,146.08 709.33,146.06 710.13,145.62 710.93,146.45 711.73,145.78 712.53,145.91 713.33,146.09 714.13,145.63 714.93,146.45 715.73,146.27 716.53,146.09 717.33,145.62 718.13,145.95 718.93,146.1 719.73,145.69 720.53,145.99 721.34,146.04 722.14,145.94 722.94,145.74 723.74,145.01 724.54,146.18 725.34,145.75 726.14,145.89 726.94,145.92 727.74,145.37 728.54,145.6 729.34,145.63 730.14,145.98 730.94,146.1 731.74,145.75 732.54,145.93 733.34,146.02 734.14,145.63 734.94,146.21 735.74,146.06 736.54,145.59 737.34,145.86 738.14,145.63 738.94,146.1 739.74,145.62 740.54,146.05 741.34,145.41 742.14,145.59 742.95,145.69 743.75,145.36 744.55,145.72 745.35,146.03 746.15,145.35 746.95,145.73 747.75,145.45 748.55,145.78 749.35,145.47 750.15,146.1 750.95,146.22 751.75,146.27 752.55,145.59 753.35,146.44 754.15,146.38 754.95,146.27 755.75,145.76 756.55,145.69 757.35,146.08 758.15,145.58 758.95,145.73 759.75,145.45 760.55,145.54 761.35,146.04 762.15,145.77 762.95,145.88 763.76,145.68 764.56,145.76 765.36,145.82 766.16,145.61 766.96,145.81 767.76,145.6 768.56,145.81 769.36,145.87 770.16,145.54 770.96,145.53 771.76,145.44 772.56,145.63 773.36,145.89 774.16,145.77" fill="none" stroke="#00008b" stroke-width="1.5" stroke-linejoin="round" stroke-linecap="round" />
<polyline points="583.23,45.97 583.87,46.08 584.5,46.16 585.14,46.61 585.78,47.05 586.41,47.3 587.05,47.39 587.69,47.4 588.32,47.57 588.96,47.62 589.6,48.15 590.23,48.49 590.87,48.76 591.51,48.95 592.14,49.34 592.78,49.68 593.42,49.98 594.05,50.13 594.69,50.52 595.33,50.76 595.96,51.04 596.6,51.15 597.24,51.4 597.87,51.79 598.51,51.96 599.15,52.13 599.78,52.34 600.42,52.66 601.06,53.05 601.69,53.18 602.33,53.29 602.97,53.36 603.6,53.32 604.24,53.64 604.88,54.03 605.51,54.44 606.15,54.91 606.79,54.79 607.42,54.96 608.06,54.82 608.7,55.16 609.33,55.42 609.97,55.62 610.61,55.83 611.24,55.9 611.88,55.96 612.52,56.11 613.15,55.98 613.79,56.23 614.43,56.11 615.06,56.45 615.7,56.55 616.34,56.67 616.97,56.66 617.61,56.61 618.25,56.7 618.88,56.82 619.52,56.77 620.16,56.83 620.79,56.75 621.43,56.64 622.07,56.67 622.7,56.66 623.34,56.76 623.98,56.6 624.61,56.57 625.25,56.39 625.89,56.16 626.52,55.88 627.16,55.88 627.8,55.67 628.43,55.43 629.07,55.1 629.71,55.14 630.34,55.15 630.98,54.77 631.62,54.29 632.25,53.95 632.89,54.04 633.53,53.86 634.16,53.66 634.8,53.14 635.44,53.09 636.07,52.8 636.71,52.75 637.35,52.35 637.98,52.2 638.62,51.83 639.26,51.69 639.89,51.47 640.53,51.26 641.17,50.95 641.8,50.86 642.44,50.7 643.08,50.51 643.71,50.06 644.35,49.63 644.99,49.5 645.62,49.32 646.26,49.52 646.9,49.41 647.53,49.26 648.17,48.9 648.81,48.56 649.44,48.24 650.08,47.95 650.72,47.63 651.35,47.52 651.99,47.35 652.63,47.35 653.26,47.11 653.9,46.93 654.54,46.72 655.17,46.93 655.81,46.87 656.45,46.37 657.08,45.87 657.72,45.7 658.36,45.81 658.99,45.52 659.63,45.26 660.27,45.15 660.9,45.26 661.54,45.18 662.18,45.15 662.81,44.84 663.45,44.52 664.09,44.15 664.72,44.12 665.36,44.26 666,44.39 666.63,44.16 667.27,43.87 667.91,43.52 668.54,43.41 669.18,43.48 669.82,43.66 670.45,43.46 671.09,43.31 671.73,42.79 672.36,43.03 673,42.96 673.64,43.16 674.27,42.8 674.91,42.51 675.55,42.37 676.18,42.24 676.82,42.36 677.46,42.26 678.09,42.37 678.73,42.2 679.37,42.13 680,41.89 680.64,41.37 681.28,41.37 681.91,41.35 682.55,41.56 683.19,41.33 683.82,41.08 684.46,41.19 685.1,41.03 685.73,41.19 686.37,40.92 687.01,40.91 687.64,40.73 688.28,40.81 688.92,40.96 689.55,41.03 690.19,40.83 690.83,40.59 691.46,40.33 692.1,40.49 692.74,40.33 693.37,40.24 694.01,40.28 694.65,40.26 695.28,40.1 695.92,39.9 696.56,39.78 697.19,39.93 697.83,39.72 698.47,39.82 699.1,39.87 699.74,39.97 700.38,39.94 701.01,39.88 701.65,39.89 702.29,39.7 702.92,39.66 703.56,39.66 704.2,39.85 704.83,39.7 705.47,39.78 706.11,39.59 706.74,39.54 707.38,39.14 708.02,39.21 708.65,39.35 709.29,39.45 709.93,39.37 710.56,39.13 711.2,39.13 711.84,39.18 712.47,39.46 713.11,39.49 713.75,39.43 714.38,39.17 715.02,39.15 715.66,39.02 716.29,39.03 716.93,39.15 717.57,39.44 718.2,39.66 718.84,39.64 719.48,39.63 720.11,39.52 720.75,39.46 721.39,39.28 722.02,39.36 722.66,39.52 723.3,39.65 723.93,39.82 724.57,39.8 725.21,39.97 725.84,39.79 726.48,40.13 727.12,40.01 727.75,40.08 728.39,39.84 729.03,39.94 729.66,40.06 730.3,39.96 730.94,39.87 731.57,39.95 732.21,39.97 732.85,40.27 733.48,40.29 734.12,40.48 734.76,40.61 735.39,40.69 736.03,40.88 736.67,40.73 737.3,40.93 737.94,41.12 738.58,41.42 739.21,41.4 739.85,41.26 740.49,41.16 741.12,41.33 741.76,41.36 742.4,41.54 743.03,41.56 743.67,41.63 744.31,41.67 744.94,41.93 745.58,42.05 746.22,42.12 746.85,42.04 747.49,42.07 748.13,42.22 748.76,42.19 749.4,42.4 750.04,42.15 750.67,42.5 751.31,42.58 751.95,42.91 752.58,42.7 753.22,42.86 753.86,43.06 754.49,43.12 755.13,43.22 755.77,43.23 756.4,43.49 757.04,43.51 757.68,43.79 758.31,43.95 758.95,44.11 759.59,44.07 760.22,44.02 760.86,44.08 761.5,44.16 762.13,44.41 762.77,44.47 763.41,44.75 764.04,44.91 764.68,45.36 765.32,45.58 765.95,45.65 766.59,45.67 767.23,45.93 767.86,46.21 768.5,46.41 769.14,46.51 769.77,46.66 770.41,46.84 771.05,46.9 771.68,47.02 772.32,47.24 772.96,47.3 773.59,47.6" fill="none" stroke="#00008b" stroke-width="2.9" stroke-linejoin="round" stroke-linecap="round" />
<rect x="577.7" y="20.4" width="206.8" height="155.1" fill="none" stroke="#000" stroke-width="1.05"/>
<path d="M577.7 175.5v-1.8M577.7 20.4v1.8M588.04 175.5v-3.6M588.04 20.4v3.6M598.38 175.5v-1.8M598.38 20.4v1.8M608.72 175.5v-1.8M608.72 20.4v1.8M619.06 175.5v-3.6M619.06 20.4v3.6M629.4 175.5v-1.8M629.4 20.4v1.8M639.74 175.5v-1.8M639.74 20.4v1.8M650.08 175.5v-3.6M650.08 20.4v3.6M660.42 175.5v-1.8M660.42 20.4v1.8M670.76 175.5v-1.8M670.76 20.4v1.8M681.1 175.5v-3.6M681.1 20.4v3.6M691.44 175.5v-1.8M691.44 20.4v1.8M701.78 175.5v-1.8M701.78 20.4v1.8M712.12 175.5v-3.6M712.12 20.4v3.6M722.46 175.5v-1.8M722.46 20.4v1.8M732.8 175.5v-1.8M732.8 20.4v1.8M743.14 175.5v-3.6M743.14 20.4v3.6M753.48 175.5v-1.8M753.48 20.4v1.8M763.82 175.5v-1.8M763.82 20.4v1.8M774.16 175.5v-3.6M774.16 20.4v3.6M784.5 175.5v-1.8M784.5 20.4v1.8M577.7 175.5h3.6M784.5 175.5h-3.6M577.7 159.99h1.8M784.5 159.99h-1.8M577.7 144.48h3.6M784.5 144.48h-3.6M577.7 128.97h1.8M784.5 128.97h-1.8M577.7 113.46h3.6M784.5 113.46h-3.6M577.7 97.95h1.8M784.5 97.95h-1.8M577.7 82.44h3.6M784.5 82.44h-3.6M577.7 66.93h1.8M784.5 66.93h-1.8M577.7 51.42h3.6M784.5 51.42h-3.6M577.7 35.91h1.8M784.5 35.91h-1.8M577.7 20.4h3.6M784.5 20.4h-3.6" stroke="#000" stroke-width="0.75" fill="none"/>
<text x="569.2" y="180.2" font-size="13.7" text-anchor="end">0</text>
<text x="569.2" y="149.18" font-size="13.7" text-anchor="end">2</text>
<text x="569.2" y="118.16" font-size="13.7" text-anchor="end">4</text>
<text x="569.2" y="87.14" font-size="13.7" text-anchor="end">6</text>
<text x="569.2" y="56.12" font-size="13.7" text-anchor="end">8</text>
<text x="569.2" y="25.1" font-size="13.7" text-anchor="end">10</text>
<text x="599.4" y="71.9" font-size="12.5" fill="#00008b" text-anchor="start" >Sample + Background <tspan font-style="italic">H // ab</tspan></text>
<text x="628.2" y="134.2" font-size="12.5" fill="#00008b" text-anchor="start" >Background <tspan font-style="italic">H // ab</tspan></text>
<text x="581.6" y="15.7" font-size="16.3" fill="#000" text-anchor="start" >(e)</text>
<text x="780.6" y="14" font-size="14.2" fill="#000" text-anchor="end" word-spacing="0.8">0.50 K, 0.3T, 34 Hz</text>
<polyline points="582.87,333.32 583.67,333.6 584.47,333.85 585.27,333.76 586.07,333.65 586.87,334.17 587.67,333.51 588.47,333.72 589.27,334.12 590.07,334.01 590.87,333.45 591.67,334.11 592.47,333.06 593.27,334.05 594.08,333.66 594.88,334.51 595.68,333.74 596.48,333.88 597.28,333.57 598.08,333.66 598.88,333.83 599.68,333.06 600.48,333.49 601.28,333.95 602.08,333.62 602.88,334.62 603.68,333.91 604.48,333.34 605.28,333.9 606.08,333.68 606.88,334.09 607.68,333.49 608.48,333.69 609.28,333.73 610.08,333.44 610.88,333.22 611.68,333.48 612.48,334.27 613.28,333.61 614.08,333.65 614.89,334.09 615.69,334.23 616.49,333.86 617.29,333.83 618.09,333.75 618.89,333.96 619.69,333.69 620.49,333.64 621.29,333.83 622.09,333.62 622.89,333.92 623.69,334.22 624.49,333.74 625.29,333.46 626.09,332.9 626.89,334.4 627.69,333.89 628.49,334.01 629.29,333.65 630.09,334.01 630.89,333.7 631.69,333.43 632.49,333.97 633.29,333.76 634.09,333.23 634.89,333.46 635.69,334.24 636.5,333.09 637.3,333.95 638.1,333.64 638.9,333.86 639.7,333.88 640.5,333.95 641.3,333.54 642.1,333.97 642.9,334.12 643.7,333.91 644.5,333.73 645.3,334.36 646.1,333.49 646.9,333.96 647.7,333.51 648.5,333.3 649.3,333.64 650.1,333.57 650.9,333.87 651.7,333.94 652.5,334.32 653.3,333.79 654.1,333.9 654.9,334.47 655.7,333.65 656.5,333.26 657.31,333.61 658.11,333.37 658.91,333.82 659.71,334.05 660.51,333.71 661.31,333.84 662.11,334.08 662.91,333.41 663.71,333.68 664.51,333.93 665.31,333.67 666.11,333.78 666.91,333.54 667.71,333.24 668.51,333.92 669.31,334.1 670.11,333.3 670.91,332.99 671.71,333.92 672.51,334.01 673.31,334.1 674.11,333.73 674.91,333.7 675.71,333.81 676.51,333.47 677.31,333.98 678.11,333.91 678.92,334.12 679.72,333.3 680.52,333.4 681.32,333.32 682.12,333.99 682.92,333.31 683.72,333.64 684.52,333.5 685.32,333.55 686.12,333.83 686.92,333.78 687.72,334.2 688.52,333.9 689.32,333.8 690.12,334.08 690.92,333.7 691.72,333.33 692.52,333.88 693.32,334.02 694.12,333.99 694.92,333.67 695.72,333.18 696.52,333.67 697.32,333.71 698.12,334.11 698.92,333.62 699.72,333.53 700.53,333.85 701.33,333.73 702.13,333.93 702.93,333.5 703.73,333.31 704.53,333.61 705.33,333.57 706.13,333.71 706.93,333.92 707.73,333.96 708.53,333.85 709.33,333.69 710.13,333.73 710.93,333.41 711.73,333.5 712.53,333.26 713.33,333.48 714.13,333.8 714.93,333.69 715.73,334.23 716.53,333.21 717.33,333.9 718.13,333.85 718.93,333.16 719.73,334.05 720.53,333.91 721.34,333.74 722.14,333.9 722.94,333.69 723.74,333.65 724.54,333.53 725.34,333.76 726.14,333.51 726.94,333.82 727.74,333.53 728.54,333.36 729.34,334.26 730.14,333.79 730.94,333.67 731.74,334.3 732.54,334.66 733.34,333.62 734.14,333.92 734.94,333.48 735.74,333.72 736.54,333.73 737.34,333.83 738.14,333.69 738.94,334 739.74,333.88 740.54,333.48 741.34,333.8 742.14,333.56 742.95,333.72 743.75,333.83 744.55,334.02 745.35,333.46 746.15,333.98 746.95,333.61 747.75,334.2 748.55,333.64 749.35,333.6 750.15,333.92 750.95,334.22 751.75,333.77 752.55,333.69 753.35,333.88 754.15,333.93 754.95,333.44 755.75,333.76 756.55,333.85 757.35,333.46 758.15,333.73 758.95,333.94 759.75,333.45 760.55,333.83 761.35,333.44 762.15,333.93 762.95,333.62 763.76,333.34 764.56,333.58 765.36,333.57 766.16,333.58 766.96,333.46 767.76,333.7 768.56,333.58 769.36,333.79 770.16,333.13 770.96,333.99 771.76,333.47 772.56,334.02 773.36,333.56 774.16,333.32" fill="none" stroke="#00008b" stroke-width="1.5" stroke-linejoin="round" stroke-linecap="round" />
<polyline points="583.77,235.06 584.41,235.24 585.05,235.74 585.68,236 586.32,235.93 586.96,236.15 587.6,236.69 588.23,237.36 588.87,237.83 589.51,237.53 590.15,237.71 590.78,237.96 591.42,238.17 592.06,238.39 592.7,238.44 593.33,239.02 593.97,238.89 594.61,238.9 595.25,239.07 595.88,239.86 596.52,240.59 597.16,240.39 597.8,240.23 598.43,239.92 599.07,240.5 599.71,240.74 600.35,241.12 600.98,240.87 601.62,240.91 602.26,241.24 602.9,241.54 603.53,241.63 604.17,241.51 604.81,241.72 605.45,241.97 606.08,242.16 606.72,242.65 607.36,242.57 608,242.41 608.63,241.91 609.27,242.14 609.91,242.62 610.55,242.47 611.19,242.37 611.82,242.1 612.46,242.25 613.1,242.21 613.74,242.11 614.37,241.82 615.01,241.73 615.65,241.32 616.29,241.43 616.92,241.19 617.56,241.27 618.2,241.08 618.84,240.85 619.47,240.82 620.11,240.98 620.75,240.77 621.39,240.79 622.02,240.73 622.66,240.73 623.3,240.45 623.94,240.16 624.57,240.14 625.21,239.97 625.85,239.44 626.49,239.27 627.12,239.4 627.76,239.63 628.4,239.31 629.04,238.9 629.67,238.69 630.31,238.43 630.95,238.03 631.59,237.72 632.22,237.57 632.86,237.57 633.5,237.39 634.14,237.24 634.77,237.1 635.41,236.65 636.05,236.31 636.69,235.86 637.32,235.6 637.96,235.26 638.6,235 639.24,234.81 639.88,234.67 640.51,234 641.15,233.9 641.79,233.48 642.43,233.29 643.06,232.91 643.7,232.79 644.34,232.84 644.98,232.7 645.61,232.04 646.25,231.64 646.89,231.24 647.53,231.29 648.16,230.95 648.8,230.55 649.44,230.32 650.08,230 650.71,229.84 651.35,229.5 651.99,229.3 652.63,229.03 653.26,228.71 653.9,228.62 654.54,227.8 655.18,227.67 655.81,227.23 656.45,227.65 657.09,227.59 657.73,227.55 658.36,227.27 659,226.95 659.64,226.75 660.28,226.36 660.91,225.78 661.55,225.25 662.19,225.23 662.83,225.08 663.46,224.98 664.1,224.95 664.74,225.21 665.38,225.39 666.02,224.79 666.65,224.6 667.29,224.5 667.93,224.49 668.57,224.38 669.2,224.27 669.84,224.31 670.48,224.16 671.12,224.47 671.75,224.71 672.39,224.53 673.03,224.27 673.67,223.75 674.3,223.81 674.94,223.43 675.58,223.52 676.22,223.75 676.85,223.85 677.49,224.01 678.13,223.58 678.77,223.12 679.4,222.91 680.04,222.88 680.68,223.44 681.32,223.41 681.95,223.42 682.59,223.06 683.23,222.85 683.87,222.52 684.5,222.45 685.14,222.46 685.78,222.96 686.42,222.82 687.05,222.87 687.69,222.88 688.33,222.91 688.97,223.01 689.6,222.5 690.24,222.46 690.88,222.32 691.52,222.17 692.16,222.27 692.79,222.32 693.43,222.61 694.07,222.54 694.71,222.63 695.34,222.52 695.98,222.46 696.62,222.39 697.26,222.76 697.89,222.62 698.53,222.28 699.17,221.84 699.81,221.88 700.44,221.79 701.08,221.89 701.72,221.78 702.36,222.13 702.99,222.36 703.63,222.66 704.27,222.7 704.91,222.48 705.54,222.18 706.18,222.08 706.82,222 707.46,221.98 708.09,221.76 708.73,221.96 709.37,222.49 710.01,222.47 710.64,222.71 711.28,222.96 711.92,223.73 712.56,223.37 713.19,223.35 713.83,223.08 714.47,223.37 715.11,222.94 715.74,223.21 716.38,223.26 717.02,223.52 717.66,223.12 718.29,223.27 718.93,223.38 719.57,223.79 720.21,223.66 720.85,223.66 721.48,223.79 722.12,224.01 722.76,224.57 723.4,224.61 724.03,225 724.67,224.94 725.31,224.9 725.95,224.48 726.58,224.5 727.22,224.83 727.86,225.4 728.5,225.43 729.13,225.56 729.77,225.44 730.41,225.43 731.05,225.41 731.68,225.79 732.32,226.06 732.96,226.43 733.6,226.81 734.23,226.88 734.87,226.56 735.51,226.15 736.15,226.56 736.78,227.66 737.42,228.17 738.06,228.14 738.7,227.75 739.33,227.52 739.97,227.92 740.61,227.91 741.25,228.26 741.88,228.21 742.52,228.69 743.16,228.88 743.8,229.02 744.43,228.97 745.07,229.32 745.71,229.58 746.35,229.81 746.99,229.63 747.62,229.5 748.26,229.39 748.9,229.51 749.54,229.83 750.17,229.98 750.81,230.51 751.45,230.59 752.09,230.58 752.72,230.44 753.36,230.45 754,230.99 754.64,231.01 755.27,231.28 755.91,231.04 756.55,231.14 757.19,230.82 757.82,231.58 758.46,231.98 759.1,232.62 759.74,232.14 760.37,232.11 761.01,232.22 761.65,232.63 762.29,232.87 762.92,233.02 763.56,232.57 764.2,232.58 764.84,232.03 765.47,232.22 766.11,232.23 766.75,232.69 767.39,232.8 768.02,233.07 768.66,233.61 769.3,233.64 769.94,233.7 770.57,233.36 771.21,233.6 771.85,233.83 772.49,233.98 773.12,234.11 773.76,233.68 774.4,233.91" fill="none" stroke="#00008b" stroke-width="3.2" stroke-linejoin="round" stroke-linecap="round" />
<rect x="577.7" y="202.4" width="206.8" height="155.1" fill="none" stroke="#000" stroke-width="1.05"/>
<path d="M577.7 357.5v-1.8M577.7 202.4v1.8M588.04 357.5v-3.6M588.04 202.4v3.6M598.38 357.5v-1.8M598.38 202.4v1.8M608.72 357.5v-1.8M608.72 202.4v1.8M619.06 357.5v-3.6M619.06 202.4v3.6M629.4 357.5v-1.8M629.4 202.4v1.8M639.74 357.5v-1.8M639.74 202.4v1.8M650.08 357.5v-3.6M650.08 202.4v3.6M660.42 357.5v-1.8M660.42 202.4v1.8M670.76 357.5v-1.8M670.76 202.4v1.8M681.1 357.5v-3.6M681.1 202.4v3.6M691.44 357.5v-1.8M691.44 202.4v1.8M701.78 357.5v-1.8M701.78 202.4v1.8M712.12 357.5v-3.6M712.12 202.4v3.6M722.46 357.5v-1.8M722.46 202.4v1.8M732.8 357.5v-1.8M732.8 202.4v1.8M743.14 357.5v-3.6M743.14 202.4v3.6M753.48 357.5v-1.8M753.48 202.4v1.8M763.82 357.5v-1.8M763.82 202.4v1.8M774.16 357.5v-3.6M774.16 202.4v3.6M784.5 357.5v-1.8M784.5 202.4v1.8M577.7 357.5h3.6M784.5 357.5h-3.6M577.7 344.57h1.8M784.5 344.57h-1.8M577.7 331.65h3.6M784.5 331.65h-3.6M577.7 318.73h1.8M784.5 318.73h-1.8M577.7 305.8h3.6M784.5 305.8h-3.6M577.7 292.88h1.8M784.5 292.88h-1.8M577.7 279.95h3.6M784.5 279.95h-3.6M577.7 267.02h1.8M784.5 267.02h-1.8M577.7 254.1h3.6M784.5 254.1h-3.6M577.7 241.18h1.8M784.5 241.18h-1.8M577.7 228.25h3.6M784.5 228.25h-3.6M577.7 215.33h1.8M784.5 215.33h-1.8M577.7 202.4h3.6M784.5 202.4h-3.6" stroke="#000" stroke-width="0.75" fill="none"/>
<text x="569.2" y="362.2" font-size="13.7" text-anchor="end">0</text>
<text x="569.2" y="336.35" font-size="13.7" text-anchor="end">1</text>
<text x="569.2" y="310.5" font-size="13.7" text-anchor="end">2</text>
<text x="569.2" y="284.65" font-size="13.7" text-anchor="end">3</text>
<text x="569.2" y="258.8" font-size="13.7" text-anchor="end">4</text>
<text x="569.2" y="232.95" font-size="13.7" text-anchor="end">5</text>
<text x="569.2" y="207.1" font-size="13.7" text-anchor="end">6</text>
<text x="590.04" y="376.6" font-size="13.7" text-anchor="middle">-30</text>
<text x="621.06" y="376.6" font-size="13.7" text-anchor="middle">0</text>
<text x="652.08" y="376.6" font-size="13.7" text-anchor="middle">30</text>
<text x="683.1" y="376.6" font-size="13.7" text-anchor="middle">60</text>
<text x="714.12" y="376.6" font-size="13.7" text-anchor="middle">90</text>
<text x="745.14" y="376.6" font-size="13.7" text-anchor="middle">120</text>
<text x="776.16" y="376.6" font-size="13.7" text-anchor="middle">150</text>
<text x="599.4" y="218" font-size="12.5" fill="#00008b" text-anchor="start" >Sample + Background <tspan font-style="italic">H // ab</tspan></text>
<text x="628.2" y="349.2" font-size="12.5" fill="#00008b" text-anchor="start" >Background <tspan font-style="italic">H // ab</tspan></text>
<text x="581.6" y="197.7" font-size="16.3" fill="#000" text-anchor="start" >(f)</text>
<text x="780.6" y="196" font-size="14.2" fill="#000" text-anchor="end" word-spacing="0.8">0.14 K, 0.3T, 34 Hz</text>
<rect x="670.1" y="245.5" width="106.8" height="68.6" fill="#fff"/>
<polyline points="672.77,300.21 673.27,300.51 673.76,299.44 674.26,299.78 674.76,299.42 675.25,300.04 675.75,299.56 676.25,300.69 676.74,300.47 677.24,299.53 677.73,300.18 678.23,300.23 678.73,299.89 679.22,300.81 679.72,299.81 680.22,299.59 680.71,300 681.21,300.41 681.71,298.79 682.2,299.48 682.7,300.24 683.2,299.97 683.69,300.5 684.19,300.53 684.68,300.59 685.18,299.95 685.68,299.23 686.17,299.01 686.67,299.45 687.17,298.79 687.66,299 688.16,299.91 688.66,299.71 689.15,299.05 689.65,298.8 690.15,298.54 690.64,299.86 691.14,300.14 691.63,297.92 692.13,299.15 692.63,298.41 693.12,298.9 693.62,299.64 694.12,298.06 694.61,298.53 695.11,297.93 695.61,298.37 696.1,299.21 696.6,298.64 697.1,298.03 697.59,298.92 698.09,298.4 698.58,297.83 699.08,299.12 699.58,298.62 700.07,298.3 700.57,297.84 701.07,298.41 701.56,298.74 702.06,298.04 702.56,298.68 703.05,298.12 703.55,298.16 704.05,298.48 704.54,297.92 705.04,297.76 705.53,299.15 706.03,298.18 706.53,298.58 707.02,298.69 707.52,298.51 708.02,297.95 708.51,298.72 709.01,298.86 709.51,299.41 710,298.86 710.5,298.81 711,299.39 711.49,299.08 711.99,298.7 712.48,298.24 712.98,299.22 713.48,298.01 713.97,298.61 714.47,298.73 714.97,298.93 715.46,299.25 715.96,299.7 716.46,299.44 716.95,299.42 717.45,299.41 717.95,298.7 718.44,298.49 718.94,299.33 719.43,299.12 719.93,300.08 720.43,300.83 720.92,299.83 721.42,299.67 721.92,299.06 722.41,298.53 722.91,299.73 723.41,299.18 723.9,299.3 724.4,299.81 724.9,299.49 725.39,299.75 725.89,299.12 726.38,300.56 726.88,301.27 727.38,299.94 727.87,299.52 728.37,299.46 728.87,300.36 729.36,299.76 729.86,300.43 730.36,299.71 730.85,300.51 731.35,300.7 731.85,299.61 732.34,300.82 732.84,300.95 733.33,299.72 733.83,300.11 734.33,301.45 734.82,299.54 735.32,300.87 735.82,300.45 736.31,300.28 736.81,299.12 737.31,300.25 737.8,299.74 738.3,300.33 738.8,299.98 739.29,301.04 739.79,300.27 740.28,300.62 740.78,300.85 741.28,300.13 741.77,299.73 742.27,300.05 742.77,300.49 743.26,299.92 743.76,300.94 744.26,300.16 744.75,300.06 745.25,300.4 745.75,300.49 746.24,300.29 746.74,300.68 747.23,300.49 747.73,299.97 748.23,301.44 748.72,299.7 749.22,300.14 749.72,300.28 750.21,300.96 750.71,300.64 751.21,300.74 751.7,300.05 752.2,300.08 752.7,299.8 753.19,300.4 753.69,301.55 754.18,300.97 754.68,300.65 755.18,300.28 755.67,301.28 756.17,300.58 756.67,300.44 757.16,300.8 757.66,300.59 758.16,299.24 758.65,300.5 759.15,299.41 759.65,300.37 760.14,300.89 760.64,300.21 761.13,300.74 761.63,300.55 762.13,301.75 762.62,300.34 763.12,300.85 763.62,299.92 764.11,300.48 764.61,300.75 765.11,301.12 765.6,300.54 766.1,300.76 766.6,300.99 767.09,299.55 767.59,300.65 768.08,300.09 768.58,299.78 769.08,300.36 769.57,300.25 770.07,300.32 770.57,300.07 771.06,300.29 771.56,300.33" fill="none" stroke="#00008b" stroke-width="1.3" stroke-linejoin="round" stroke-linecap="round" />
<polyline points="673.45,279.91 673.9,280.93 674.35,281.46 674.79,282.19 675.24,282.17 675.69,281.95 676.13,284.17 676.58,284.5 677.03,285.35 677.48,285.24 677.92,285.02 678.37,286.54 678.82,286.61 679.26,289.02 679.71,287.93 680.16,287.98 680.61,289.31 681.05,290.59 681.5,289.64 681.95,290.61 682.39,289.78 682.84,292.05 683.29,292.25 683.74,292.89 684.18,292.98 684.63,294.76 685.08,292.79 685.52,293.57 685.97,294.38 686.42,294.57 686.87,293.94 687.31,293.99 687.76,294.45 688.21,294.11 688.65,293.54 689.1,293.86 689.55,293.52 690,293.3 690.44,292.95 690.89,293.31 691.34,292.73 691.78,291.46 692.23,290.84 692.68,291.14 693.13,293.4 693.57,291.59 694.02,289.92 694.47,288.68 694.92,288.69 695.36,289.38 695.81,289.13 696.26,288.82 696.7,286.87 697.15,287.56 697.6,287.98 698.05,286.2 698.49,285.83 698.94,287.4 699.39,285.86 699.83,284.11 700.28,283.57 700.73,284.49 701.18,282.94 701.62,281.63 702.07,281.33 702.52,281.64 702.96,280.31 703.41,278.99 703.86,278.42 704.31,278.78 704.75,275.71 705.2,276.59 705.65,277.19 706.09,275.74 706.54,276.87 706.99,274.78 707.44,273.69 707.88,271.29 708.33,272.26 708.78,271.5 709.22,270.59 709.67,270.36 710.12,270.33 710.57,268.32 711.01,268.33 711.46,267.02 711.91,266.83 712.35,267.71 712.8,266.86 713.25,266.33 713.7,265.86 714.14,264.84 714.59,264.9 715.04,264.99 715.49,263.02 715.93,262.76 716.38,263.39 716.83,263.86 717.27,263.24 717.72,263.04 718.17,262.85 718.62,262.63 719.06,261.5 719.51,261.2 719.96,260.86 720.4,261.6 720.85,260.49 721.3,259.06 721.75,260.11 722.19,260.36 722.64,257.93 723.09,259.49 723.53,260 723.98,258.76 724.43,259.74 724.88,259.34 725.32,258.22 725.77,259.24 726.22,259.73 726.66,258.04 727.11,257.82 727.56,259.29 728.01,258.45 728.45,257.31 728.9,257.82 729.35,257.31 729.79,257.91 730.24,258.2 730.69,258.07 731.14,257.81 731.58,257.39 732.03,259.37 732.48,258.74 732.92,257.3 733.37,256.76 733.82,257.66 734.27,257.14 734.71,257.88 735.16,258.08 735.61,256.96 736.06,257.13 736.5,257.48 736.95,258.1 737.4,257.2 737.84,257.39 738.29,257.63 738.74,257.66 739.19,257.98 739.63,257.48 740.08,257.72 740.53,256.89 740.97,257.31 741.42,258.5 741.87,259.53 742.32,258.41 742.76,259.51 743.21,258.24 743.66,260.65 744.1,260.17 744.55,259.05 745,260.42 745.45,260.2 745.89,260.54 746.34,261.66 746.79,261.03 747.23,262.57 747.68,262.52 748.13,261.13 748.58,263.13 749.02,263.1 749.47,264.5 749.92,263.16 750.36,265.15 750.81,265.4 751.26,265.69 751.71,266.31 752.15,267.03 752.6,266.61 753.05,267.12 753.5,267.21 753.94,268.2 754.39,268.5 754.84,268.43 755.28,268.56 755.73,269.57 756.18,269.29 756.63,269.79 757.07,269.22 757.52,269.88 757.97,270.32 758.41,270.32 758.86,271.83 759.31,270.76 759.76,271.93 760.2,272.75 760.65,272.44 761.1,273.82 761.54,272.11 761.99,273.5 762.44,275.04 762.89,275.08 763.33,274.92 763.78,275.23 764.23,274.78 764.67,274.74 765.12,274.89 765.57,275.48 766.02,276.77 766.46,275.55 766.91,275.71 767.36,278.19 767.8,277.45 768.25,277.53 768.7,278.06 769.15,277 769.59,277.64 770.04,278.16 770.49,279.3 770.93,280.13 771.38,279.57" fill="none" stroke="#00008b" stroke-width="1.25" stroke-linejoin="round" stroke-linecap="round" />
<polyline points="673.45,279.91 673.9,280.93 674.35,281.46 674.79,282.19 675.24,282.17 675.69,281.95 676.13,284.17 676.58,284.5 677.03,285.35 677.48,285.24 677.92,285.02 678.37,286.54 678.82,286.61 679.26,289.02 679.71,287.93 680.16,287.98 680.61,289.31 681.05,290.59 681.5,289.64 681.95,290.61 682.39,289.78 682.84,292.05 683.29,292.25 683.74,292.89 684.18,292.98 684.63,294.76 685.08,292.79 685.52,293.57 685.97,294.38 686.42,294.57 686.87,293.94 687.31,293.99 687.76,294.45 688.21,294.11 688.65,293.54 689.1,293.86 689.55,293.52 690,293.3 690.44,292.95 690.89,293.31 691.34,292.73 691.78,291.46 692.23,290.84 692.68,291.14 693.13,293.4 693.57,291.59 694.02,289.92 694.47,288.68 694.92,288.69 695.36,289.38 695.81,289.13 696.26,288.82 696.7,286.87 697.15,287.56 697.6,287.98 698.05,286.2 698.49,285.83 698.94,287.4 699.39,285.86" fill="none" stroke="#00008b" stroke-width="2.2" stroke-linejoin="round" stroke-linecap="round" />
<rect x="670.1" y="245.5" width="106.8" height="68.6" fill="none" stroke="#000" stroke-width="0.75"/>
<path d="M670.1 314.1v-1.5M670.1 245.5v1.5M680.78 314.1v-1.5M680.78 245.5v1.5M691.46 314.1v-3M691.46 245.5v3M702.14 314.1v-1.5M702.14 245.5v1.5M712.82 314.1v-1.5M712.82 245.5v1.5M723.5 314.1v-3M723.5 245.5v3M734.18 314.1v-1.5M734.18 245.5v1.5M744.86 314.1v-1.5M744.86 245.5v1.5M755.54 314.1v-3M755.54 245.5v3M766.22 314.1v-1.5M766.22 245.5v1.5M776.9 314.1v-1.5M776.9 245.5v1.5M670.1 314.1h3M776.9 314.1h-3M670.1 302.67h1.5M776.9 302.67h-1.5M670.1 291.23h3M776.9 291.23h-3M670.1 279.8h1.5M776.9 279.8h-1.5M670.1 268.37h3M776.9 268.37h-3M670.1 256.93h1.5M776.9 256.93h-1.5M670.1 245.5h3M776.9 245.5h-3" stroke="#000" stroke-width="0.6" fill="none"/>
<text x="664.8" y="318.05" font-size="11.6" text-anchor="end">4</text>
<text x="664.8" y="295.19" font-size="11.6" text-anchor="end">4.5</text>
<text x="664.8" y="272.32" font-size="11.6" text-anchor="end">5</text>
<text x="664.8" y="249.45" font-size="11.6" text-anchor="end">5.5</text>
<text x="692.36" y="327.1" font-size="11.6" text-anchor="middle">0</text>
<text x="724.4" y="327.1" font-size="11.6" text-anchor="middle">60</text>
<text x="756.44" y="327.1" font-size="11.6" text-anchor="middle">120</text>
<text x="679.6" y="263.9" font-size="11.5" fill="#00008b" text-anchor="start" >S + B</text>
<text x="734.2" y="296.3" font-size="11.5" fill="#00008b" text-anchor="start" >B</text>
<text transform="translate(37.9 158.3) rotate(-90)" font-size="16.8" text-anchor="start"><tspan font-style="italic">C</tspan> / <tspan dx="2" font-style="italic">T</tspan> (arb. units)</text>
<text transform="translate(37.9 340.3) rotate(-90)" font-size="16.8" text-anchor="start"><tspan font-style="italic">C</tspan> / <tspan dx="2" font-style="italic">T</tspan> (arb. units)</text>
<text x="185" y="397.7" font-size="16.8" fill="#000" text-anchor="middle" ><tspan font-style="italic">μ</tspan><tspan font-size="14.78" dy="5.2">0</tspan><tspan dy="-5.2" dx="0.8"><tspan font-style="italic">H</tspan> (T)</tspan></text>
<text x="433" y="397.7" font-size="16.8" fill="#000" text-anchor="middle" ><tspan font-style="italic">μ</tspan><tspan font-size="14.78" dy="5.2">0</tspan><tspan dy="-5.2" dx="0.8"><tspan font-style="italic">H</tspan> (T)</tspan></text>
<text x="681.2" y="398.9" font-size="17.0" fill="#000" text-anchor="middle" ><tspan font-style="italic">ϕ</tspan> (deg.)</text>
</svg>
</body></html>
